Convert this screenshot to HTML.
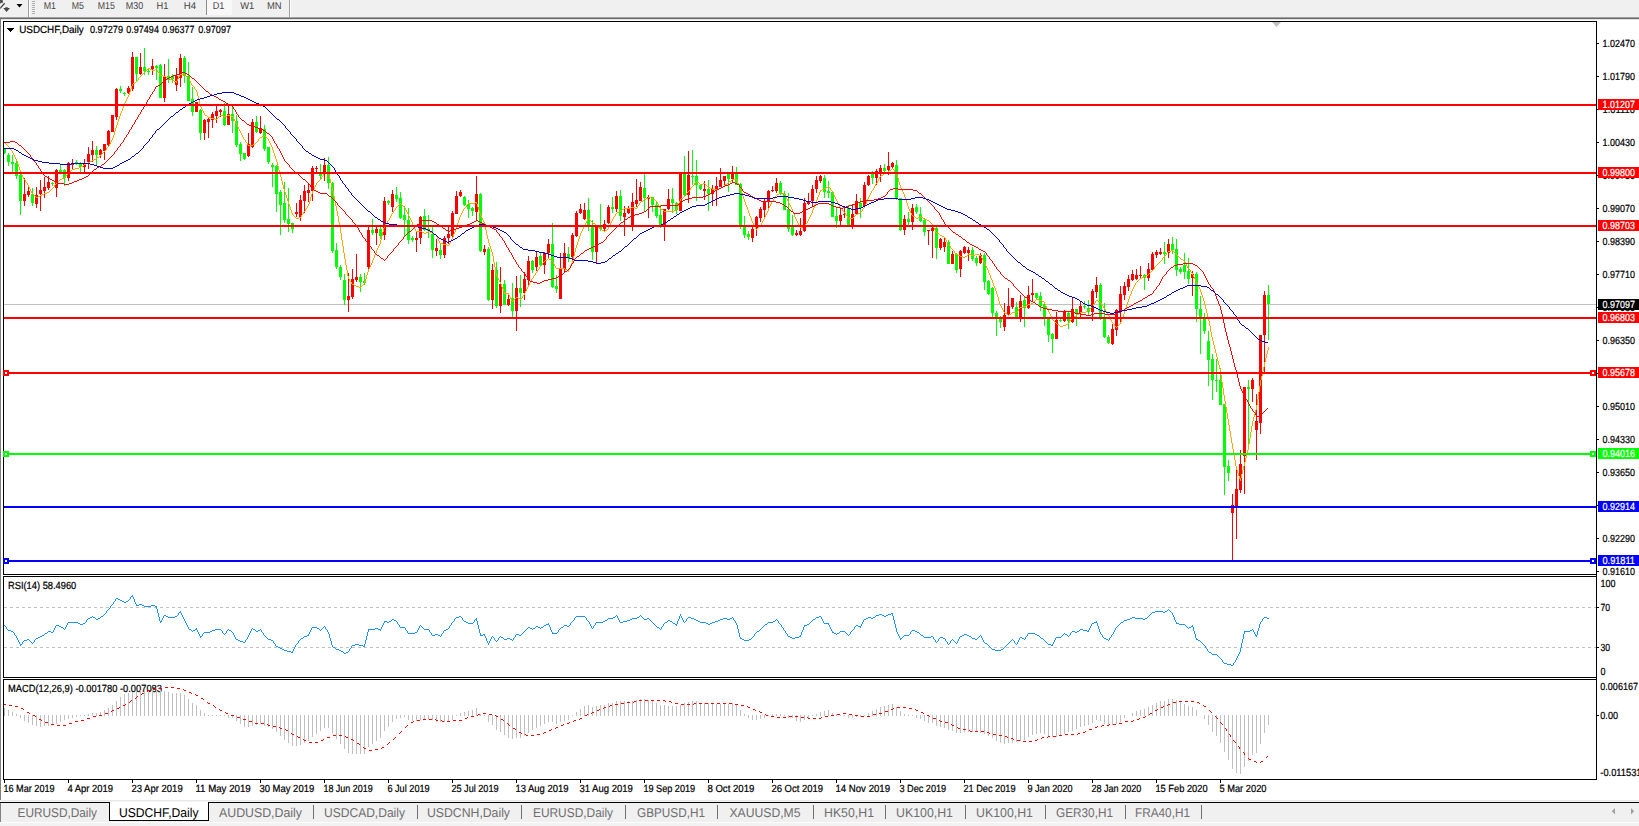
<!DOCTYPE html>
<html><head><meta charset="utf-8"><title>USDCHF,Daily</title>
<style>
html,body{margin:0;padding:0;background:#fff;overflow:hidden}
svg{display:block;font-family:'Liberation Sans', sans-serif;}
svg rect,svg line,svg polyline,svg path{shape-rendering:crispEdges}
svg text{text-rendering:geometricPrecision}
</style></head>
<body>
<svg width="1639" height="826" viewBox="0 0 1639 826">
<rect x="0" y="0" width="1639" height="826" fill="#ffffff" />
<rect x="0" y="0" width="1639" height="17" fill="#f0f0f0" />
<rect x="0" y="17" width="1639" height="1" fill="#a0a0a0" />
<rect x="0" y="18" width="1639" height="1" fill="#696969" />
<rect x="0" y="19" width="1639" height="1" fill="#e3e3e3" />
<rect x="0" y="19" width="1" height="781" fill="#808080" />
<path d="M0 0 L2.6 0 L3.1 2.4 L0 3.6 Z" fill="#505050" style="shape-rendering:auto"/>
<path d="M4.7 3.3 L0 8.4" stroke="#404040" stroke-width="1.3" fill="none" style="shape-rendering:auto"/>
<path d="M3.2 8 L5.3 8 L5.3 7.2 L7.8 7.2 L7.8 8 L10 8 L6.6 12.1 Z" fill="#484848" style="shape-rendering:auto"/>
<path d="M16.5 4 L22.5 4 L19.5 7.5 Z" fill="#000" style="shape-rendering:auto"/>
<rect x="28" y="0" width="1" height="17" fill="#a0a0a0" />
<rect x="29" y="0" width="1" height="17" fill="#ffffff" />
<rect x="289" y="0" width="1" height="17" fill="#a0a0a0" />
<rect x="290" y="0" width="1" height="17" fill="#ffffff" />
<rect x="32" y="1" width="3" height="1" fill="#b0b0b0" />
<rect x="32" y="3" width="3" height="1" fill="#b0b0b0" />
<rect x="32" y="5" width="3" height="1" fill="#b0b0b0" />
<rect x="32" y="7" width="3" height="1" fill="#b0b0b0" />
<rect x="32" y="9" width="3" height="1" fill="#b0b0b0" />
<rect x="32" y="11" width="3" height="1" fill="#b0b0b0" />
<rect x="32" y="13" width="3" height="1" fill="#b0b0b0" />
<rect x="206" y="0" width="1" height="15" fill="#8c8c8c" />
<rect x="207" y="0" width="25" height="15" fill="#f8f8f8" />
<text x="43.7" y="9" font-size="10" fill="#444" stroke="#444" stroke-width="0" textLength="12.3" lengthAdjust="spacingAndGlyphs" >M1</text>
<text x="71.8" y="9" font-size="10" fill="#444" stroke="#444" stroke-width="0" textLength="12.2" lengthAdjust="spacingAndGlyphs" >M5</text>
<text x="97.7" y="9" font-size="10" fill="#444" stroke="#444" stroke-width="0" textLength="17.1" lengthAdjust="spacingAndGlyphs" >M15</text>
<text x="125.8" y="9" font-size="10" fill="#444" stroke="#444" stroke-width="0" textLength="17.4" lengthAdjust="spacingAndGlyphs" >M30</text>
<text x="156.5" y="9" font-size="10" fill="#444" stroke="#444" stroke-width="0" textLength="11.9" lengthAdjust="spacingAndGlyphs" >H1</text>
<text x="183.7" y="9" font-size="10" fill="#444" stroke="#444" stroke-width="0" textLength="12.3" lengthAdjust="spacingAndGlyphs" >H4</text>
<text x="212.7" y="9" font-size="10" fill="#444" stroke="#444" stroke-width="0" textLength="11.7" lengthAdjust="spacingAndGlyphs" >D1</text>
<text x="240.2" y="9" font-size="10" fill="#444" stroke="#444" stroke-width="0" textLength="14.1" lengthAdjust="spacingAndGlyphs" >W1</text>
<text x="266.9" y="9" font-size="10" fill="#444" stroke="#444" stroke-width="0" textLength="14.6" lengthAdjust="spacingAndGlyphs" >MN</text>
<rect x="1596" y="21" width="1" height="759" fill="#000" />
<rect x="3" y="21" width="1594" height="1" fill="#000" />
<rect x="3" y="574" width="1594" height="1" fill="#000" />
<rect x="3" y="21" width="1" height="554" fill="#000" />
<rect x="3" y="576" width="1594" height="1" fill="#000" />
<rect x="3" y="677" width="1594" height="1" fill="#000" />
<rect x="3" y="576" width="1" height="102" fill="#000" />
<rect x="3" y="679" width="1594" height="1" fill="#000" />
<rect x="3" y="779" width="1594" height="1" fill="#000" />
<rect x="3" y="679" width="1" height="101" fill="#000" />
<defs><clipPath id="cm"><rect x="4" y="22" width="1592" height="552"/></clipPath><clipPath id="cr"><rect x="4" y="577" width="1592" height="100"/></clipPath><clipPath id="cd"><rect x="4" y="680" width="1592" height="99"/></clipPath></defs>
<rect x="1597" y="43" width="2" height="1" fill="#000" />
<text x="1602.5" y="46.6" font-size="10.4" fill="#000" stroke="#000" stroke-width="0.22" textLength="32.4" lengthAdjust="spacingAndGlyphs" >1.02470</text>
<rect x="1597" y="76" width="2" height="1" fill="#000" />
<text x="1602.5" y="79.6" font-size="10.4" fill="#000" stroke="#000" stroke-width="0.22" textLength="32.4" lengthAdjust="spacingAndGlyphs" >1.01790</text>
<rect x="1597" y="109" width="2" height="1" fill="#000" />
<text x="1602.5" y="112.6" font-size="10.4" fill="#000" stroke="#000" stroke-width="0.22" textLength="32.4" lengthAdjust="spacingAndGlyphs" >1.01110</text>
<rect x="1597" y="142" width="2" height="1" fill="#000" />
<text x="1602.5" y="145.6" font-size="10.4" fill="#000" stroke="#000" stroke-width="0.22" textLength="32.4" lengthAdjust="spacingAndGlyphs" >1.00430</text>
<rect x="1597" y="175" width="2" height="1" fill="#000" />
<text x="1602.5" y="178.6" font-size="10.4" fill="#000" stroke="#000" stroke-width="0.22" textLength="32.4" lengthAdjust="spacingAndGlyphs" >0.99750</text>
<rect x="1597" y="208" width="2" height="1" fill="#000" />
<text x="1602.5" y="211.6" font-size="10.4" fill="#000" stroke="#000" stroke-width="0.22" textLength="32.4" lengthAdjust="spacingAndGlyphs" >0.99070</text>
<rect x="1597" y="241" width="2" height="1" fill="#000" />
<text x="1602.5" y="244.6" font-size="10.4" fill="#000" stroke="#000" stroke-width="0.22" textLength="32.4" lengthAdjust="spacingAndGlyphs" >0.98390</text>
<rect x="1597" y="274" width="2" height="1" fill="#000" />
<text x="1602.5" y="277.6" font-size="10.4" fill="#000" stroke="#000" stroke-width="0.22" textLength="32.4" lengthAdjust="spacingAndGlyphs" >0.97710</text>
<rect x="1597" y="307" width="2" height="1" fill="#000" />
<text x="1602.5" y="310.6" font-size="10.4" fill="#000" stroke="#000" stroke-width="0.22" textLength="32.4" lengthAdjust="spacingAndGlyphs" >0.97030</text>
<rect x="1597" y="340" width="2" height="1" fill="#000" />
<text x="1602.5" y="343.6" font-size="10.4" fill="#000" stroke="#000" stroke-width="0.22" textLength="32.4" lengthAdjust="spacingAndGlyphs" >0.96350</text>
<rect x="1597" y="373" width="2" height="1" fill="#000" />
<text x="1602.5" y="376.6" font-size="10.4" fill="#000" stroke="#000" stroke-width="0.22" textLength="32.4" lengthAdjust="spacingAndGlyphs" >0.95690</text>
<rect x="1597" y="406" width="2" height="1" fill="#000" />
<text x="1602.5" y="409.6" font-size="10.4" fill="#000" stroke="#000" stroke-width="0.22" textLength="32.4" lengthAdjust="spacingAndGlyphs" >0.95010</text>
<rect x="1597" y="439" width="2" height="1" fill="#000" />
<text x="1602.5" y="442.6" font-size="10.4" fill="#000" stroke="#000" stroke-width="0.22" textLength="32.4" lengthAdjust="spacingAndGlyphs" >0.94330</text>
<rect x="1597" y="472" width="2" height="1" fill="#000" />
<text x="1602.5" y="475.6" font-size="10.4" fill="#000" stroke="#000" stroke-width="0.22" textLength="32.4" lengthAdjust="spacingAndGlyphs" >0.93650</text>
<rect x="1597" y="505" width="2" height="1" fill="#000" />
<text x="1602.5" y="508.6" font-size="10.4" fill="#000" stroke="#000" stroke-width="0.22" textLength="32.4" lengthAdjust="spacingAndGlyphs" >0.92970</text>
<rect x="1597" y="538" width="2" height="1" fill="#000" />
<text x="1602.5" y="541.6" font-size="10.4" fill="#000" stroke="#000" stroke-width="0.22" textLength="32.4" lengthAdjust="spacingAndGlyphs" >0.92290</text>
<rect x="1597" y="571" width="2" height="1" fill="#000" />
<text x="1602.5" y="574.6" font-size="10.4" fill="#000" stroke="#000" stroke-width="0.22" textLength="32.4" lengthAdjust="spacingAndGlyphs" >0.91610</text>
<rect x="4" y="304" width="1592" height="1" fill="#c0c0c0" />
<g clip-path="url(#cm)">
<rect x="4" y="148" width="1" height="6" fill="#00ff00" />
<rect x="3" y="149" width="3" height="4" fill="#00ff00" />
<rect x="8" y="153" width="1" height="13" fill="#00ff00" />
<rect x="7" y="155" width="3" height="7" fill="#00ff00" />
<rect x="12" y="155" width="1" height="17" fill="#00ff00" />
<rect x="11" y="162" width="3" height="2" fill="#00ff00" />
<rect x="16" y="161" width="1" height="18" fill="#00ff00" />
<rect x="15" y="163" width="3" height="13" fill="#00ff00" />
<rect x="20" y="173" width="1" height="42" fill="#00ff00" />
<rect x="19" y="175" width="3" height="26" fill="#00ff00" />
<rect x="24" y="178" width="1" height="28" fill="#ff0000" />
<rect x="23" y="194" width="3" height="7" fill="#ff0000" />
<rect x="28" y="185" width="1" height="12" fill="#ff0000" />
<rect x="27" y="191" width="3" height="4" fill="#ff0000" />
<rect x="32" y="188" width="1" height="18" fill="#00ff00" />
<rect x="31" y="194" width="3" height="9" fill="#00ff00" />
<rect x="36" y="187" width="1" height="21" fill="#ff0000" />
<rect x="35" y="195" width="3" height="9" fill="#ff0000" />
<rect x="40" y="180" width="1" height="31" fill="#ff0000" />
<rect x="39" y="190" width="3" height="4" fill="#ff0000" />
<rect x="44" y="177" width="1" height="21" fill="#ff0000" />
<rect x="43" y="187" width="3" height="4" fill="#ff0000" />
<rect x="48" y="176" width="1" height="14" fill="#ff0000" />
<rect x="47" y="182" width="3" height="6" fill="#ff0000" />
<rect x="52" y="182" width="1" height="4" fill="#00ff00" />
<rect x="51" y="183" width="3" height="1" fill="#00ff00" />
<rect x="56" y="169" width="1" height="28" fill="#ff0000" />
<rect x="55" y="170" width="3" height="18" fill="#ff0000" />
<rect x="60" y="165" width="1" height="8" fill="#00ff00" />
<rect x="59" y="170" width="3" height="2" fill="#00ff00" />
<rect x="64" y="169" width="1" height="17" fill="#00ff00" />
<rect x="63" y="170" width="3" height="8" fill="#00ff00" />
<rect x="68" y="162" width="1" height="19" fill="#ff0000" />
<rect x="67" y="163" width="3" height="15" fill="#ff0000" />
<rect x="72" y="159" width="1" height="10" fill="#ff0000" />
<rect x="71" y="164" width="3" height="1" fill="#ff0000" />
<rect x="76" y="160" width="1" height="5" fill="#00ff00" />
<rect x="75" y="162" width="3" height="1" fill="#00ff00" />
<rect x="80" y="162" width="1" height="12" fill="#00ff00" />
<rect x="79" y="163" width="3" height="4" fill="#00ff00" />
<rect x="84" y="159" width="1" height="14" fill="#ff0000" />
<rect x="83" y="164" width="3" height="3" fill="#ff0000" />
<rect x="88" y="147" width="1" height="22" fill="#ff0000" />
<rect x="87" y="154" width="3" height="8" fill="#ff0000" />
<rect x="92" y="141" width="1" height="21" fill="#ff0000" />
<rect x="91" y="150" width="3" height="5" fill="#ff0000" />
<rect x="96" y="146" width="1" height="20" fill="#00ff00" />
<rect x="95" y="150" width="3" height="5" fill="#00ff00" />
<rect x="100" y="149" width="1" height="9" fill="#ff0000" />
<rect x="99" y="150" width="3" height="5" fill="#ff0000" />
<rect x="104" y="144" width="1" height="16" fill="#ff0000" />
<rect x="103" y="144" width="3" height="7" fill="#ff0000" />
<rect x="108" y="130" width="1" height="17" fill="#ff0000" />
<rect x="107" y="131" width="3" height="14" fill="#ff0000" />
<rect x="112" y="115" width="1" height="17" fill="#ff0000" />
<rect x="111" y="115" width="3" height="17" fill="#ff0000" />
<rect x="116" y="88" width="1" height="32" fill="#ff0000" />
<rect x="115" y="89" width="3" height="28" fill="#ff0000" />
<rect x="120" y="86" width="1" height="7" fill="#00ff00" />
<rect x="119" y="89" width="3" height="2" fill="#00ff00" />
<rect x="124" y="92" width="1" height="4" fill="#00ff00" />
<rect x="123" y="93" width="3" height="1" fill="#00ff00" />
<rect x="128" y="86" width="1" height="8" fill="#ff0000" />
<rect x="127" y="88" width="3" height="5" fill="#ff0000" />
<rect x="132" y="52" width="1" height="39" fill="#ff0000" />
<rect x="131" y="57" width="3" height="32" fill="#ff0000" />
<rect x="136" y="57" width="1" height="24" fill="#00ff00" />
<rect x="135" y="57" width="3" height="17" fill="#00ff00" />
<rect x="140" y="53" width="1" height="22" fill="#ff0000" />
<rect x="139" y="67" width="3" height="7" fill="#ff0000" />
<rect x="144" y="48" width="1" height="27" fill="#00ff00" />
<rect x="143" y="67" width="3" height="4" fill="#00ff00" />
<rect x="148" y="69" width="1" height="6" fill="#00ff00" />
<rect x="147" y="71" width="3" height="1" fill="#00ff00" />
<rect x="152" y="59" width="1" height="16" fill="#ff0000" />
<rect x="151" y="66" width="3" height="3" fill="#ff0000" />
<rect x="156" y="65" width="1" height="15" fill="#00ff00" />
<rect x="155" y="66" width="3" height="2" fill="#00ff00" />
<rect x="160" y="64" width="1" height="34" fill="#00ff00" />
<rect x="159" y="65" width="3" height="33" fill="#00ff00" />
<rect x="164" y="64" width="1" height="38" fill="#ff0000" />
<rect x="163" y="76" width="3" height="22" fill="#ff0000" />
<rect x="168" y="59" width="1" height="24" fill="#00ff00" />
<rect x="167" y="76" width="3" height="4" fill="#00ff00" />
<rect x="172" y="74" width="1" height="9" fill="#00ff00" />
<rect x="171" y="76" width="3" height="3" fill="#00ff00" />
<rect x="176" y="68" width="1" height="23" fill="#ff0000" />
<rect x="175" y="76" width="3" height="9" fill="#ff0000" />
<rect x="180" y="54" width="1" height="33" fill="#ff0000" />
<rect x="179" y="58" width="3" height="20" fill="#ff0000" />
<rect x="184" y="56" width="1" height="27" fill="#00ff00" />
<rect x="183" y="58" width="3" height="18" fill="#00ff00" />
<rect x="188" y="62" width="1" height="39" fill="#00ff00" />
<rect x="187" y="76" width="3" height="25" fill="#00ff00" />
<rect x="192" y="87" width="1" height="29" fill="#00ff00" />
<rect x="191" y="99" width="3" height="13" fill="#00ff00" />
<rect x="196" y="102" width="1" height="10" fill="#ff0000" />
<rect x="195" y="102" width="3" height="10" fill="#ff0000" />
<rect x="200" y="109" width="1" height="31" fill="#00ff00" />
<rect x="199" y="110" width="3" height="23" fill="#00ff00" />
<rect x="204" y="119" width="1" height="21" fill="#ff0000" />
<rect x="203" y="120" width="3" height="13" fill="#ff0000" />
<rect x="208" y="118" width="1" height="20" fill="#ff0000" />
<rect x="207" y="119" width="3" height="3" fill="#ff0000" />
<rect x="212" y="112" width="1" height="16" fill="#ff0000" />
<rect x="211" y="114" width="3" height="6" fill="#ff0000" />
<rect x="216" y="105" width="1" height="18" fill="#ff0000" />
<rect x="215" y="111" width="3" height="5" fill="#ff0000" />
<rect x="220" y="109" width="1" height="8" fill="#ff0000" />
<rect x="219" y="110" width="3" height="2" fill="#ff0000" />
<rect x="224" y="103" width="1" height="23" fill="#00ff00" />
<rect x="223" y="111" width="3" height="14" fill="#00ff00" />
<rect x="228" y="105" width="1" height="20" fill="#ff0000" />
<rect x="227" y="114" width="3" height="11" fill="#ff0000" />
<rect x="232" y="105" width="1" height="28" fill="#00ff00" />
<rect x="231" y="114" width="3" height="7" fill="#00ff00" />
<rect x="236" y="115" width="1" height="32" fill="#00ff00" />
<rect x="235" y="121" width="3" height="24" fill="#00ff00" />
<rect x="240" y="142" width="1" height="19" fill="#00ff00" />
<rect x="239" y="144" width="3" height="10" fill="#00ff00" />
<rect x="244" y="153" width="1" height="7" fill="#00ff00" />
<rect x="243" y="153" width="3" height="6" fill="#00ff00" />
<rect x="248" y="133" width="1" height="24" fill="#ff0000" />
<rect x="247" y="144" width="3" height="12" fill="#ff0000" />
<rect x="252" y="119" width="1" height="29" fill="#ff0000" />
<rect x="251" y="122" width="3" height="25" fill="#ff0000" />
<rect x="256" y="116" width="1" height="17" fill="#00ff00" />
<rect x="255" y="122" width="3" height="10" fill="#00ff00" />
<rect x="260" y="116" width="1" height="18" fill="#ff0000" />
<rect x="259" y="128" width="3" height="5" fill="#ff0000" />
<rect x="264" y="125" width="1" height="26" fill="#00ff00" />
<rect x="263" y="129" width="3" height="20" fill="#00ff00" />
<rect x="268" y="147" width="1" height="17" fill="#00ff00" />
<rect x="267" y="147" width="3" height="15" fill="#00ff00" />
<rect x="272" y="163" width="1" height="24" fill="#00ff00" />
<rect x="271" y="165" width="3" height="2" fill="#00ff00" />
<rect x="276" y="165" width="1" height="47" fill="#00ff00" />
<rect x="275" y="166" width="3" height="28" fill="#00ff00" />
<rect x="280" y="190" width="1" height="45" fill="#00ff00" />
<rect x="279" y="192" width="3" height="13" fill="#00ff00" />
<rect x="284" y="182" width="1" height="41" fill="#00ff00" />
<rect x="283" y="203" width="3" height="17" fill="#00ff00" />
<rect x="288" y="188" width="1" height="44" fill="#00ff00" />
<rect x="287" y="219" width="3" height="5" fill="#00ff00" />
<rect x="292" y="223" width="1" height="10" fill="#00ff00" />
<rect x="291" y="223" width="3" height="6" fill="#00ff00" />
<rect x="296" y="203" width="1" height="14" fill="#ff0000" />
<rect x="295" y="212" width="3" height="2" fill="#ff0000" />
<rect x="300" y="195" width="1" height="26" fill="#ff0000" />
<rect x="299" y="200" width="3" height="17" fill="#ff0000" />
<rect x="304" y="185" width="1" height="28" fill="#ff0000" />
<rect x="303" y="191" width="3" height="10" fill="#ff0000" />
<rect x="308" y="183" width="1" height="19" fill="#ff0000" />
<rect x="307" y="190" width="3" height="3" fill="#ff0000" />
<rect x="312" y="166" width="1" height="35" fill="#ff0000" />
<rect x="311" y="168" width="3" height="23" fill="#ff0000" />
<rect x="316" y="166" width="1" height="7" fill="#ff0000" />
<rect x="315" y="168" width="3" height="1" fill="#ff0000" />
<rect x="320" y="164" width="1" height="16" fill="#00ff00" />
<rect x="319" y="172" width="3" height="4" fill="#00ff00" />
<rect x="324" y="158" width="1" height="23" fill="#ff0000" />
<rect x="323" y="165" width="3" height="7" fill="#ff0000" />
<rect x="328" y="157" width="1" height="32" fill="#00ff00" />
<rect x="327" y="165" width="3" height="18" fill="#00ff00" />
<rect x="332" y="182" width="1" height="71" fill="#00ff00" />
<rect x="331" y="183" width="3" height="68" fill="#00ff00" />
<rect x="336" y="243" width="1" height="26" fill="#00ff00" />
<rect x="335" y="250" width="3" height="17" fill="#00ff00" />
<rect x="340" y="265" width="1" height="15" fill="#00ff00" />
<rect x="339" y="267" width="3" height="10" fill="#00ff00" />
<rect x="344" y="274" width="1" height="31" fill="#00ff00" />
<rect x="343" y="280" width="3" height="20" fill="#00ff00" />
<rect x="348" y="273" width="1" height="39" fill="#ff0000" />
<rect x="347" y="296" width="3" height="4" fill="#ff0000" />
<rect x="352" y="269" width="1" height="30" fill="#ff0000" />
<rect x="351" y="279" width="3" height="18" fill="#ff0000" />
<rect x="356" y="254" width="1" height="28" fill="#ff0000" />
<rect x="355" y="277" width="3" height="3" fill="#ff0000" />
<rect x="360" y="274" width="1" height="18" fill="#00ff00" />
<rect x="359" y="277" width="3" height="5" fill="#00ff00" />
<rect x="364" y="273" width="1" height="12" fill="#00ff00" />
<rect x="363" y="281" width="3" height="2" fill="#00ff00" />
<rect x="368" y="227" width="1" height="42" fill="#ff0000" />
<rect x="367" y="230" width="3" height="37" fill="#ff0000" />
<rect x="372" y="219" width="1" height="16" fill="#00ff00" />
<rect x="371" y="230" width="3" height="3" fill="#00ff00" />
<rect x="376" y="226" width="1" height="19" fill="#ff0000" />
<rect x="375" y="229" width="3" height="4" fill="#ff0000" />
<rect x="380" y="225" width="1" height="14" fill="#00ff00" />
<rect x="379" y="229" width="3" height="7" fill="#00ff00" />
<rect x="384" y="197" width="1" height="43" fill="#ff0000" />
<rect x="383" y="201" width="3" height="34" fill="#ff0000" />
<rect x="388" y="200" width="1" height="5" fill="#00ff00" />
<rect x="387" y="201" width="3" height="2" fill="#00ff00" />
<rect x="392" y="190" width="1" height="22" fill="#ff0000" />
<rect x="391" y="194" width="3" height="13" fill="#ff0000" />
<rect x="396" y="187" width="1" height="15" fill="#00ff00" />
<rect x="395" y="195" width="3" height="4" fill="#00ff00" />
<rect x="400" y="192" width="1" height="27" fill="#00ff00" />
<rect x="399" y="198" width="3" height="20" fill="#00ff00" />
<rect x="404" y="206" width="1" height="31" fill="#00ff00" />
<rect x="403" y="215" width="3" height="5" fill="#00ff00" />
<rect x="408" y="208" width="1" height="36" fill="#00ff00" />
<rect x="407" y="220" width="3" height="20" fill="#00ff00" />
<rect x="412" y="236" width="1" height="6" fill="#00ff00" />
<rect x="411" y="238" width="3" height="2" fill="#00ff00" />
<rect x="416" y="232" width="1" height="20" fill="#ff0000" />
<rect x="415" y="238" width="3" height="2" fill="#ff0000" />
<rect x="420" y="216" width="1" height="28" fill="#ff0000" />
<rect x="419" y="217" width="3" height="21" fill="#ff0000" />
<rect x="424" y="209" width="1" height="22" fill="#00ff00" />
<rect x="423" y="216" width="3" height="14" fill="#00ff00" />
<rect x="428" y="215" width="1" height="23" fill="#00ff00" />
<rect x="427" y="229" width="3" height="2" fill="#00ff00" />
<rect x="432" y="227" width="1" height="31" fill="#00ff00" />
<rect x="431" y="234" width="3" height="16" fill="#00ff00" />
<rect x="436" y="239" width="1" height="17" fill="#ff0000" />
<rect x="435" y="248" width="3" height="3" fill="#ff0000" />
<rect x="440" y="243" width="1" height="16" fill="#00ff00" />
<rect x="439" y="250" width="3" height="5" fill="#00ff00" />
<rect x="444" y="236" width="1" height="22" fill="#ff0000" />
<rect x="443" y="238" width="3" height="17" fill="#ff0000" />
<rect x="448" y="225" width="1" height="19" fill="#ff0000" />
<rect x="447" y="234" width="3" height="4" fill="#ff0000" />
<rect x="452" y="211" width="1" height="26" fill="#ff0000" />
<rect x="451" y="213" width="3" height="23" fill="#ff0000" />
<rect x="456" y="191" width="1" height="23" fill="#ff0000" />
<rect x="455" y="196" width="3" height="18" fill="#ff0000" />
<rect x="460" y="190" width="1" height="7" fill="#ff0000" />
<rect x="459" y="192" width="3" height="4" fill="#ff0000" />
<rect x="464" y="196" width="1" height="10" fill="#00ff00" />
<rect x="463" y="197" width="3" height="8" fill="#00ff00" />
<rect x="468" y="200" width="1" height="18" fill="#00ff00" />
<rect x="467" y="204" width="3" height="5" fill="#00ff00" />
<rect x="472" y="207" width="1" height="9" fill="#00ff00" />
<rect x="471" y="208" width="3" height="3" fill="#00ff00" />
<rect x="476" y="176" width="1" height="44" fill="#ff0000" />
<rect x="475" y="194" width="3" height="18" fill="#ff0000" />
<rect x="480" y="193" width="1" height="59" fill="#00ff00" />
<rect x="479" y="194" width="3" height="57" fill="#00ff00" />
<rect x="484" y="245" width="1" height="10" fill="#ff0000" />
<rect x="483" y="249" width="3" height="3" fill="#ff0000" />
<rect x="488" y="247" width="1" height="54" fill="#00ff00" />
<rect x="487" y="249" width="3" height="51" fill="#00ff00" />
<rect x="492" y="264" width="1" height="45" fill="#ff0000" />
<rect x="491" y="270" width="3" height="30" fill="#ff0000" />
<rect x="496" y="262" width="1" height="46" fill="#00ff00" />
<rect x="495" y="270" width="3" height="36" fill="#00ff00" />
<rect x="500" y="267" width="1" height="46" fill="#ff0000" />
<rect x="499" y="284" width="3" height="22" fill="#ff0000" />
<rect x="504" y="280" width="1" height="25" fill="#00ff00" />
<rect x="503" y="284" width="3" height="21" fill="#00ff00" />
<rect x="508" y="294" width="1" height="12" fill="#ff0000" />
<rect x="507" y="299" width="3" height="6" fill="#ff0000" />
<rect x="512" y="283" width="1" height="34" fill="#00ff00" />
<rect x="511" y="298" width="3" height="13" fill="#00ff00" />
<rect x="516" y="276" width="1" height="55" fill="#ff0000" />
<rect x="515" y="288" width="3" height="23" fill="#ff0000" />
<rect x="520" y="275" width="1" height="32" fill="#00ff00" />
<rect x="519" y="288" width="3" height="5" fill="#00ff00" />
<rect x="524" y="272" width="1" height="28" fill="#ff0000" />
<rect x="523" y="279" width="3" height="14" fill="#ff0000" />
<rect x="528" y="256" width="1" height="30" fill="#ff0000" />
<rect x="527" y="261" width="3" height="19" fill="#ff0000" />
<rect x="532" y="260" width="1" height="13" fill="#00ff00" />
<rect x="531" y="261" width="3" height="9" fill="#00ff00" />
<rect x="536" y="251" width="1" height="20" fill="#ff0000" />
<rect x="535" y="257" width="3" height="10" fill="#ff0000" />
<rect x="540" y="253" width="1" height="14" fill="#00ff00" />
<rect x="539" y="256" width="3" height="9" fill="#00ff00" />
<rect x="544" y="252" width="1" height="22" fill="#ff0000" />
<rect x="543" y="253" width="3" height="12" fill="#ff0000" />
<rect x="548" y="239" width="1" height="20" fill="#ff0000" />
<rect x="547" y="244" width="3" height="9" fill="#ff0000" />
<rect x="552" y="223" width="1" height="65" fill="#00ff00" />
<rect x="551" y="244" width="3" height="43" fill="#00ff00" />
<rect x="556" y="275" width="1" height="18" fill="#00ff00" />
<rect x="555" y="286" width="3" height="3" fill="#00ff00" />
<rect x="560" y="253" width="1" height="46" fill="#ff0000" />
<rect x="559" y="269" width="3" height="30" fill="#ff0000" />
<rect x="564" y="243" width="1" height="29" fill="#ff0000" />
<rect x="563" y="253" width="3" height="16" fill="#ff0000" />
<rect x="568" y="247" width="1" height="15" fill="#00ff00" />
<rect x="567" y="254" width="3" height="4" fill="#00ff00" />
<rect x="572" y="233" width="1" height="29" fill="#ff0000" />
<rect x="571" y="235" width="3" height="22" fill="#ff0000" />
<rect x="576" y="211" width="1" height="26" fill="#ff0000" />
<rect x="575" y="213" width="3" height="23" fill="#ff0000" />
<rect x="580" y="204" width="1" height="10" fill="#ff0000" />
<rect x="579" y="209" width="3" height="4" fill="#ff0000" />
<rect x="584" y="203" width="1" height="17" fill="#ff0000" />
<rect x="583" y="210" width="3" height="9" fill="#ff0000" />
<rect x="588" y="198" width="1" height="33" fill="#00ff00" />
<rect x="587" y="210" width="3" height="15" fill="#00ff00" />
<rect x="592" y="220" width="1" height="40" fill="#00ff00" />
<rect x="591" y="225" width="3" height="27" fill="#00ff00" />
<rect x="596" y="226" width="1" height="38" fill="#ff0000" />
<rect x="595" y="227" width="3" height="25" fill="#ff0000" />
<rect x="600" y="204" width="1" height="27" fill="#00ff00" />
<rect x="599" y="226" width="3" height="3" fill="#00ff00" />
<rect x="604" y="220" width="1" height="11" fill="#ff0000" />
<rect x="603" y="224" width="3" height="5" fill="#ff0000" />
<rect x="608" y="205" width="1" height="19" fill="#ff0000" />
<rect x="607" y="207" width="3" height="16" fill="#ff0000" />
<rect x="612" y="197" width="1" height="16" fill="#00ff00" />
<rect x="611" y="207" width="3" height="2" fill="#00ff00" />
<rect x="616" y="191" width="1" height="21" fill="#ff0000" />
<rect x="615" y="196" width="3" height="13" fill="#ff0000" />
<rect x="620" y="190" width="1" height="31" fill="#00ff00" />
<rect x="619" y="196" width="3" height="20" fill="#00ff00" />
<rect x="624" y="206" width="1" height="30" fill="#ff0000" />
<rect x="623" y="213" width="3" height="4" fill="#ff0000" />
<rect x="628" y="206" width="1" height="8" fill="#ff0000" />
<rect x="627" y="208" width="3" height="5" fill="#ff0000" />
<rect x="632" y="193" width="1" height="38" fill="#ff0000" />
<rect x="631" y="202" width="3" height="23" fill="#ff0000" />
<rect x="636" y="179" width="1" height="28" fill="#ff0000" />
<rect x="635" y="200" width="3" height="4" fill="#ff0000" />
<rect x="640" y="182" width="1" height="19" fill="#ff0000" />
<rect x="639" y="187" width="3" height="14" fill="#ff0000" />
<rect x="644" y="174" width="1" height="37" fill="#00ff00" />
<rect x="643" y="188" width="3" height="10" fill="#00ff00" />
<rect x="648" y="195" width="1" height="23" fill="#ff0000" />
<rect x="647" y="197" width="3" height="2" fill="#ff0000" />
<rect x="652" y="197" width="1" height="15" fill="#00ff00" />
<rect x="651" y="197" width="3" height="8" fill="#00ff00" />
<rect x="656" y="202" width="1" height="16" fill="#00ff00" />
<rect x="655" y="205" width="3" height="11" fill="#00ff00" />
<rect x="660" y="205" width="1" height="23" fill="#00ff00" />
<rect x="659" y="215" width="3" height="10" fill="#00ff00" />
<rect x="664" y="209" width="1" height="32" fill="#ff0000" />
<rect x="663" y="209" width="3" height="16" fill="#ff0000" />
<rect x="668" y="189" width="1" height="21" fill="#ff0000" />
<rect x="667" y="199" width="3" height="10" fill="#ff0000" />
<rect x="672" y="188" width="1" height="25" fill="#00ff00" />
<rect x="671" y="199" width="3" height="4" fill="#00ff00" />
<rect x="676" y="202" width="1" height="12" fill="#00ff00" />
<rect x="675" y="203" width="3" height="7" fill="#00ff00" />
<rect x="680" y="173" width="1" height="38" fill="#ff0000" />
<rect x="679" y="173" width="3" height="38" fill="#ff0000" />
<rect x="684" y="156" width="1" height="40" fill="#00ff00" />
<rect x="683" y="174" width="3" height="21" fill="#00ff00" />
<rect x="688" y="151" width="1" height="52" fill="#ff0000" />
<rect x="687" y="175" width="3" height="20" fill="#ff0000" />
<rect x="692" y="150" width="1" height="35" fill="#00ff00" />
<rect x="691" y="176" width="3" height="1" fill="#00ff00" />
<rect x="696" y="160" width="1" height="41" fill="#00ff00" />
<rect x="695" y="176" width="3" height="9" fill="#00ff00" />
<rect x="700" y="184" width="1" height="6" fill="#00ff00" />
<rect x="699" y="185" width="3" height="4" fill="#00ff00" />
<rect x="704" y="181" width="1" height="19" fill="#ff0000" />
<rect x="703" y="189" width="3" height="2" fill="#ff0000" />
<rect x="708" y="180" width="1" height="31" fill="#00ff00" />
<rect x="707" y="189" width="3" height="5" fill="#00ff00" />
<rect x="712" y="185" width="1" height="21" fill="#ff0000" />
<rect x="711" y="189" width="3" height="5" fill="#ff0000" />
<rect x="716" y="177" width="1" height="29" fill="#ff0000" />
<rect x="715" y="186" width="3" height="3" fill="#ff0000" />
<rect x="720" y="168" width="1" height="19" fill="#ff0000" />
<rect x="719" y="180" width="3" height="7" fill="#ff0000" />
<rect x="724" y="176" width="1" height="9" fill="#ff0000" />
<rect x="723" y="176" width="3" height="5" fill="#ff0000" />
<rect x="728" y="173" width="1" height="19" fill="#00ff00" />
<rect x="727" y="174" width="3" height="5" fill="#00ff00" />
<rect x="732" y="166" width="1" height="17" fill="#ff0000" />
<rect x="731" y="173" width="3" height="6" fill="#ff0000" />
<rect x="736" y="167" width="1" height="18" fill="#00ff00" />
<rect x="735" y="174" width="3" height="11" fill="#00ff00" />
<rect x="740" y="183" width="1" height="46" fill="#00ff00" />
<rect x="739" y="184" width="3" height="43" fill="#00ff00" />
<rect x="744" y="216" width="1" height="22" fill="#00ff00" />
<rect x="743" y="227" width="3" height="8" fill="#00ff00" />
<rect x="748" y="231" width="1" height="9" fill="#00ff00" />
<rect x="747" y="234" width="3" height="3" fill="#00ff00" />
<rect x="752" y="225" width="1" height="17" fill="#ff0000" />
<rect x="751" y="229" width="3" height="9" fill="#ff0000" />
<rect x="756" y="216" width="1" height="20" fill="#ff0000" />
<rect x="755" y="217" width="3" height="12" fill="#ff0000" />
<rect x="760" y="207" width="1" height="15" fill="#ff0000" />
<rect x="759" y="209" width="3" height="9" fill="#ff0000" />
<rect x="764" y="199" width="1" height="18" fill="#ff0000" />
<rect x="763" y="201" width="3" height="9" fill="#ff0000" />
<rect x="768" y="190" width="1" height="19" fill="#ff0000" />
<rect x="767" y="191" width="3" height="10" fill="#ff0000" />
<rect x="772" y="186" width="1" height="6" fill="#ff0000" />
<rect x="771" y="190" width="3" height="1" fill="#ff0000" />
<rect x="776" y="178" width="1" height="15" fill="#ff0000" />
<rect x="775" y="183" width="3" height="8" fill="#ff0000" />
<rect x="780" y="181" width="1" height="14" fill="#00ff00" />
<rect x="779" y="183" width="3" height="11" fill="#00ff00" />
<rect x="784" y="191" width="1" height="19" fill="#00ff00" />
<rect x="783" y="194" width="3" height="16" fill="#00ff00" />
<rect x="788" y="193" width="1" height="39" fill="#00ff00" />
<rect x="787" y="209" width="3" height="20" fill="#00ff00" />
<rect x="792" y="215" width="1" height="21" fill="#00ff00" />
<rect x="791" y="227" width="3" height="8" fill="#00ff00" />
<rect x="796" y="230" width="1" height="6" fill="#ff0000" />
<rect x="795" y="233" width="3" height="2" fill="#ff0000" />
<rect x="800" y="218" width="1" height="18" fill="#ff0000" />
<rect x="799" y="231" width="3" height="4" fill="#ff0000" />
<rect x="804" y="198" width="1" height="34" fill="#ff0000" />
<rect x="803" y="203" width="3" height="28" fill="#ff0000" />
<rect x="808" y="193" width="1" height="12" fill="#ff0000" />
<rect x="807" y="201" width="3" height="3" fill="#ff0000" />
<rect x="812" y="185" width="1" height="21" fill="#ff0000" />
<rect x="811" y="189" width="3" height="12" fill="#ff0000" />
<rect x="816" y="176" width="1" height="17" fill="#ff0000" />
<rect x="815" y="180" width="3" height="9" fill="#ff0000" />
<rect x="820" y="175" width="1" height="8" fill="#ff0000" />
<rect x="819" y="176" width="3" height="5" fill="#ff0000" />
<rect x="824" y="175" width="1" height="23" fill="#00ff00" />
<rect x="823" y="178" width="3" height="14" fill="#00ff00" />
<rect x="828" y="181" width="1" height="17" fill="#00ff00" />
<rect x="827" y="191" width="3" height="2" fill="#00ff00" />
<rect x="832" y="191" width="1" height="26" fill="#00ff00" />
<rect x="831" y="192" width="3" height="25" fill="#00ff00" />
<rect x="836" y="208" width="1" height="20" fill="#00ff00" />
<rect x="835" y="216" width="3" height="5" fill="#00ff00" />
<rect x="840" y="207" width="1" height="18" fill="#ff0000" />
<rect x="839" y="215" width="3" height="6" fill="#ff0000" />
<rect x="844" y="207" width="1" height="11" fill="#ff0000" />
<rect x="843" y="214" width="3" height="1" fill="#ff0000" />
<rect x="848" y="205" width="1" height="20" fill="#00ff00" />
<rect x="847" y="208" width="3" height="17" fill="#00ff00" />
<rect x="852" y="204" width="1" height="25" fill="#ff0000" />
<rect x="851" y="214" width="3" height="11" fill="#ff0000" />
<rect x="856" y="194" width="1" height="21" fill="#ff0000" />
<rect x="855" y="201" width="3" height="13" fill="#ff0000" />
<rect x="860" y="198" width="1" height="20" fill="#00ff00" />
<rect x="859" y="203" width="3" height="5" fill="#00ff00" />
<rect x="864" y="182" width="1" height="25" fill="#ff0000" />
<rect x="863" y="185" width="3" height="21" fill="#ff0000" />
<rect x="868" y="175" width="1" height="11" fill="#ff0000" />
<rect x="867" y="176" width="3" height="9" fill="#ff0000" />
<rect x="872" y="171" width="1" height="13" fill="#00ff00" />
<rect x="871" y="174" width="3" height="4" fill="#00ff00" />
<rect x="876" y="169" width="1" height="16" fill="#ff0000" />
<rect x="875" y="171" width="3" height="7" fill="#ff0000" />
<rect x="880" y="165" width="1" height="17" fill="#ff0000" />
<rect x="879" y="168" width="3" height="5" fill="#ff0000" />
<rect x="884" y="164" width="1" height="8" fill="#00ff00" />
<rect x="883" y="168" width="3" height="3" fill="#00ff00" />
<rect x="888" y="152" width="1" height="23" fill="#ff0000" />
<rect x="887" y="166" width="3" height="4" fill="#ff0000" />
<rect x="892" y="162" width="1" height="6" fill="#ff0000" />
<rect x="891" y="163" width="3" height="4" fill="#ff0000" />
<rect x="896" y="160" width="1" height="40" fill="#00ff00" />
<rect x="895" y="165" width="3" height="33" fill="#00ff00" />
<rect x="900" y="198" width="1" height="33" fill="#00ff00" />
<rect x="899" y="198" width="3" height="32" fill="#00ff00" />
<rect x="904" y="215" width="1" height="20" fill="#ff0000" />
<rect x="903" y="219" width="3" height="11" fill="#ff0000" />
<rect x="908" y="212" width="1" height="13" fill="#00ff00" />
<rect x="907" y="219" width="3" height="3" fill="#00ff00" />
<rect x="912" y="204" width="1" height="26" fill="#ff0000" />
<rect x="911" y="208" width="3" height="14" fill="#ff0000" />
<rect x="916" y="204" width="1" height="10" fill="#00ff00" />
<rect x="915" y="207" width="3" height="5" fill="#00ff00" />
<rect x="920" y="207" width="1" height="15" fill="#00ff00" />
<rect x="919" y="214" width="3" height="7" fill="#00ff00" />
<rect x="924" y="218" width="1" height="18" fill="#00ff00" />
<rect x="923" y="220" width="3" height="12" fill="#00ff00" />
<rect x="928" y="230" width="1" height="15" fill="#ff0000" />
<rect x="927" y="230" width="3" height="1" fill="#ff0000" />
<rect x="932" y="227" width="1" height="31" fill="#ff0000" />
<rect x="931" y="228" width="3" height="3" fill="#ff0000" />
<rect x="936" y="227" width="1" height="32" fill="#00ff00" />
<rect x="935" y="228" width="3" height="20" fill="#00ff00" />
<rect x="940" y="238" width="1" height="12" fill="#ff0000" />
<rect x="939" y="239" width="3" height="9" fill="#ff0000" />
<rect x="944" y="237" width="1" height="15" fill="#ff0000" />
<rect x="943" y="242" width="3" height="5" fill="#ff0000" />
<rect x="948" y="240" width="1" height="24" fill="#00ff00" />
<rect x="947" y="242" width="3" height="22" fill="#00ff00" />
<rect x="952" y="251" width="1" height="13" fill="#ff0000" />
<rect x="951" y="254" width="3" height="10" fill="#ff0000" />
<rect x="956" y="253" width="1" height="20" fill="#00ff00" />
<rect x="955" y="254" width="3" height="16" fill="#00ff00" />
<rect x="960" y="250" width="1" height="27" fill="#ff0000" />
<rect x="959" y="251" width="3" height="18" fill="#ff0000" />
<rect x="964" y="246" width="1" height="8" fill="#ff0000" />
<rect x="963" y="247" width="3" height="6" fill="#ff0000" />
<rect x="968" y="247" width="1" height="14" fill="#ff0000" />
<rect x="967" y="250" width="3" height="3" fill="#ff0000" />
<rect x="972" y="247" width="1" height="14" fill="#00ff00" />
<rect x="971" y="250" width="3" height="9" fill="#00ff00" />
<rect x="976" y="256" width="1" height="10" fill="#00ff00" />
<rect x="975" y="258" width="3" height="5" fill="#00ff00" />
<rect x="980" y="253" width="1" height="11" fill="#ff0000" />
<rect x="979" y="255" width="3" height="8" fill="#ff0000" />
<rect x="984" y="253" width="1" height="37" fill="#00ff00" />
<rect x="983" y="255" width="3" height="27" fill="#00ff00" />
<rect x="988" y="280" width="1" height="15" fill="#00ff00" />
<rect x="987" y="281" width="3" height="13" fill="#00ff00" />
<rect x="992" y="287" width="1" height="30" fill="#00ff00" />
<rect x="991" y="288" width="3" height="25" fill="#00ff00" />
<rect x="996" y="311" width="1" height="25" fill="#00ff00" />
<rect x="995" y="313" width="3" height="4" fill="#00ff00" />
<rect x="1000" y="316" width="1" height="12" fill="#00ff00" />
<rect x="999" y="319" width="3" height="3" fill="#00ff00" />
<rect x="1004" y="303" width="1" height="28" fill="#ff0000" />
<rect x="1003" y="315" width="3" height="12" fill="#ff0000" />
<rect x="1008" y="288" width="1" height="28" fill="#ff0000" />
<rect x="1007" y="306" width="3" height="8" fill="#ff0000" />
<rect x="1012" y="298" width="1" height="11" fill="#ff0000" />
<rect x="1011" y="298" width="3" height="9" fill="#ff0000" />
<rect x="1016" y="302" width="1" height="16" fill="#00ff00" />
<rect x="1015" y="307" width="3" height="10" fill="#00ff00" />
<rect x="1020" y="295" width="1" height="27" fill="#ff0000" />
<rect x="1019" y="301" width="3" height="16" fill="#ff0000" />
<rect x="1024" y="297" width="1" height="30" fill="#00ff00" />
<rect x="1023" y="300" width="3" height="8" fill="#00ff00" />
<rect x="1028" y="286" width="1" height="23" fill="#ff0000" />
<rect x="1027" y="295" width="3" height="13" fill="#ff0000" />
<rect x="1032" y="279" width="1" height="22" fill="#ff0000" />
<rect x="1031" y="293" width="3" height="2" fill="#ff0000" />
<rect x="1036" y="293" width="1" height="6" fill="#00ff00" />
<rect x="1035" y="293" width="3" height="5" fill="#00ff00" />
<rect x="1040" y="292" width="1" height="19" fill="#00ff00" />
<rect x="1039" y="296" width="3" height="10" fill="#00ff00" />
<rect x="1044" y="303" width="1" height="23" fill="#00ff00" />
<rect x="1043" y="304" width="3" height="13" fill="#00ff00" />
<rect x="1048" y="317" width="1" height="25" fill="#00ff00" />
<rect x="1047" y="318" width="3" height="17" fill="#00ff00" />
<rect x="1052" y="333" width="1" height="20" fill="#00ff00" />
<rect x="1051" y="334" width="3" height="5" fill="#00ff00" />
<rect x="1056" y="312" width="1" height="27" fill="#ff0000" />
<rect x="1055" y="320" width="3" height="19" fill="#ff0000" />
<rect x="1060" y="319" width="1" height="3" fill="#00ff00" />
<rect x="1059" y="320" width="3" height="1" fill="#00ff00" />
<rect x="1064" y="310" width="1" height="12" fill="#ff0000" />
<rect x="1063" y="312" width="3" height="9" fill="#ff0000" />
<rect x="1068" y="311" width="1" height="18" fill="#00ff00" />
<rect x="1067" y="313" width="3" height="8" fill="#00ff00" />
<rect x="1072" y="297" width="1" height="26" fill="#ff0000" />
<rect x="1071" y="309" width="3" height="13" fill="#ff0000" />
<rect x="1076" y="309" width="1" height="17" fill="#00ff00" />
<rect x="1075" y="309" width="3" height="4" fill="#00ff00" />
<rect x="1080" y="302" width="1" height="15" fill="#ff0000" />
<rect x="1079" y="306" width="3" height="7" fill="#ff0000" />
<rect x="1084" y="301" width="1" height="8" fill="#00ff00" />
<rect x="1083" y="306" width="3" height="1" fill="#00ff00" />
<rect x="1088" y="300" width="1" height="16" fill="#00ff00" />
<rect x="1087" y="308" width="3" height="4" fill="#00ff00" />
<rect x="1092" y="289" width="1" height="32" fill="#ff0000" />
<rect x="1091" y="291" width="3" height="21" fill="#ff0000" />
<rect x="1096" y="277" width="1" height="21" fill="#ff0000" />
<rect x="1095" y="285" width="3" height="7" fill="#ff0000" />
<rect x="1100" y="283" width="1" height="37" fill="#00ff00" />
<rect x="1099" y="285" width="3" height="32" fill="#00ff00" />
<rect x="1104" y="303" width="1" height="35" fill="#00ff00" />
<rect x="1103" y="318" width="3" height="19" fill="#00ff00" />
<rect x="1108" y="335" width="1" height="9" fill="#00ff00" />
<rect x="1107" y="337" width="3" height="6" fill="#00ff00" />
<rect x="1112" y="324" width="1" height="21" fill="#ff0000" />
<rect x="1111" y="329" width="3" height="15" fill="#ff0000" />
<rect x="1116" y="309" width="1" height="27" fill="#ff0000" />
<rect x="1115" y="310" width="3" height="20" fill="#ff0000" />
<rect x="1120" y="286" width="1" height="37" fill="#ff0000" />
<rect x="1119" y="294" width="3" height="17" fill="#ff0000" />
<rect x="1124" y="282" width="1" height="18" fill="#ff0000" />
<rect x="1123" y="286" width="3" height="9" fill="#ff0000" />
<rect x="1128" y="275" width="1" height="16" fill="#ff0000" />
<rect x="1127" y="279" width="3" height="8" fill="#ff0000" />
<rect x="1132" y="270" width="1" height="11" fill="#ff0000" />
<rect x="1131" y="274" width="3" height="6" fill="#ff0000" />
<rect x="1136" y="269" width="1" height="11" fill="#ff0000" />
<rect x="1135" y="275" width="3" height="4" fill="#ff0000" />
<rect x="1140" y="266" width="1" height="12" fill="#ff0000" />
<rect x="1139" y="275" width="3" height="1" fill="#ff0000" />
<rect x="1144" y="274" width="1" height="16" fill="#00ff00" />
<rect x="1143" y="275" width="3" height="3" fill="#00ff00" />
<rect x="1148" y="263" width="1" height="18" fill="#ff0000" />
<rect x="1147" y="269" width="3" height="9" fill="#ff0000" />
<rect x="1152" y="252" width="1" height="18" fill="#ff0000" />
<rect x="1151" y="254" width="3" height="16" fill="#ff0000" />
<rect x="1156" y="250" width="1" height="8" fill="#ff0000" />
<rect x="1155" y="252" width="3" height="3" fill="#ff0000" />
<rect x="1160" y="248" width="1" height="7" fill="#ff0000" />
<rect x="1159" y="252" width="3" height="2" fill="#ff0000" />
<rect x="1164" y="242" width="1" height="22" fill="#00ff00" />
<rect x="1163" y="252" width="3" height="2" fill="#00ff00" />
<rect x="1168" y="239" width="1" height="19" fill="#ff0000" />
<rect x="1167" y="244" width="3" height="9" fill="#ff0000" />
<rect x="1172" y="237" width="1" height="17" fill="#00ff00" />
<rect x="1171" y="244" width="3" height="6" fill="#00ff00" />
<rect x="1176" y="239" width="1" height="37" fill="#00ff00" />
<rect x="1175" y="249" width="3" height="21" fill="#00ff00" />
<rect x="1180" y="267" width="1" height="7" fill="#00ff00" />
<rect x="1179" y="269" width="3" height="3" fill="#00ff00" />
<rect x="1184" y="253" width="1" height="26" fill="#00ff00" />
<rect x="1183" y="265" width="3" height="7" fill="#00ff00" />
<rect x="1188" y="258" width="1" height="26" fill="#00ff00" />
<rect x="1187" y="271" width="3" height="8" fill="#00ff00" />
<rect x="1192" y="271" width="1" height="25" fill="#ff0000" />
<rect x="1191" y="274" width="3" height="4" fill="#ff0000" />
<rect x="1196" y="272" width="1" height="50" fill="#00ff00" />
<rect x="1195" y="274" width="3" height="35" fill="#00ff00" />
<rect x="1200" y="296" width="1" height="58" fill="#00ff00" />
<rect x="1199" y="309" width="3" height="8" fill="#00ff00" />
<rect x="1204" y="313" width="1" height="21" fill="#00ff00" />
<rect x="1203" y="318" width="3" height="13" fill="#00ff00" />
<rect x="1208" y="331" width="1" height="55" fill="#00ff00" />
<rect x="1207" y="341" width="3" height="19" fill="#00ff00" />
<rect x="1212" y="354" width="1" height="46" fill="#00ff00" />
<rect x="1211" y="359" width="3" height="21" fill="#00ff00" />
<rect x="1216" y="359" width="1" height="33" fill="#00ff00" />
<rect x="1215" y="380" width="3" height="1" fill="#00ff00" />
<rect x="1220" y="368" width="1" height="37" fill="#00ff00" />
<rect x="1219" y="380" width="3" height="25" fill="#00ff00" />
<rect x="1224" y="404" width="1" height="91" fill="#00ff00" />
<rect x="1223" y="404" width="3" height="63" fill="#00ff00" />
<rect x="1228" y="460" width="1" height="21" fill="#00ff00" />
<rect x="1227" y="466" width="3" height="7" fill="#00ff00" />
<rect x="1232" y="494" width="1" height="66" fill="#ff0000" />
<rect x="1231" y="505" width="3" height="8" fill="#ff0000" />
<rect x="1236" y="469" width="1" height="70" fill="#ff0000" />
<rect x="1235" y="489" width="3" height="17" fill="#ff0000" />
<rect x="1240" y="450" width="1" height="43" fill="#ff0000" />
<rect x="1239" y="464" width="3" height="26" fill="#ff0000" />
<rect x="1244" y="387" width="1" height="107" fill="#ff0000" />
<rect x="1243" y="387" width="3" height="69" fill="#ff0000" />
<rect x="1248" y="380" width="1" height="64" fill="#00ff00" />
<rect x="1247" y="387" width="3" height="2" fill="#00ff00" />
<rect x="1252" y="378" width="1" height="24" fill="#ff0000" />
<rect x="1251" y="380" width="3" height="9" fill="#ff0000" />
<rect x="1256" y="394" width="1" height="66" fill="#ff0000" />
<rect x="1255" y="421" width="3" height="9" fill="#ff0000" />
<rect x="1260" y="335" width="1" height="99" fill="#ff0000" />
<rect x="1259" y="335" width="3" height="88" fill="#ff0000" />
<rect x="1264" y="291" width="1" height="83" fill="#ff0000" />
<rect x="1263" y="295" width="3" height="40" fill="#ff0000" />
<rect x="1268" y="285" width="1" height="55" fill="#00ff00" />
<rect x="1267" y="295" width="3" height="9" fill="#00ff00" />
</g>
<g clip-path="url(#cm)" fill="none" stroke-width="1" shape-rendering="crispEdges">
<path d="M1197.5 283v2M740.5 187v3M531.5 279v2M1127.5 302v3M461.5 213v2M785.5 195v2M1002.5 308v2M1203.5 298v3M511.5 299v2M765.5 215v2M346.5 265v5M332.5 187v4M349.5 279v2M792.5 209v3M342.5 240v6M305.5 209v2M761.5 223v2M286.5 195v3M574.5 252v4M269.5 141v2M368.5 269v3M1185.5 262v2M539.5 267v2M613.5 217v2M1131.5 291v3M814.5 205v3M582.5 229v2M301.5 215v2M1257.5 399v6M313.5 189v2M1243.5 466v4M1210.5 326v6M1236.5 466v4M338.5 216v6M1261.5 376v4M113.5 135v3M1212.5 337v4M1229.5 425v6M1239.5 476v3M1223.5 388v7M847.5 216v2M384.5 226v2M530.5 281v2M109.5 144v2M437.5 237v2M818.5 195v2M554.5 264v2M476.5 202v2M1252.5 421v5M905.5 197v3M414.5 227v2M987.5 268v2M411.5 220v2M906.5 200v3M1206.5 309v4M479.5 210v3M54.5 185v2M456.5 226v3M1219.5 365v4M527.5 287v2M1209.5 321v5M335.5 201v5M367.5 272v3M125.5 101v2M1130.5 294v2M238.5 127v2M997.5 294v3M312.5 191v3M1198.5 285v2M1255.5 410v4M1195.5 279v2M1000.5 304v2M510.5 297v2M871.5 191v2M375.5 253v2M1260.5 380v6M1202.5 295v3M1231.5 437v6M383.5 228v4M793.5 212v2M1215.5 349v4M30.5 189v2M351.5 282v2M794.5 214v3M282.5 181v4M817.5 197v3M31.5 191v2M1264.5 362v5M285.5 192v3M934.5 228v2M268.5 139v2M945.5 238v2M455.5 229v3M495.5 267v6M1251.5 426v6M116.5 125v3M1121.5 319v3M234.5 119v2M274.5 153v3M1071.5 318v2M275.5 156v3M1129.5 296v3M344.5 253v6M1235.5 460v6M894.5 170v2M1228.5 419v6M897.5 175v3M197.5 92v4M278.5 166v4M488.5 239v4M741.5 190v3M900.5 185v3M20.5 170v3M374.5 255v3M1052.5 318v2M132.5 84v2M23.5 177v2M587.5 219v2M439.5 241v2M807.5 221v2M576.5 245v3M985.5 264v2M412.5 222v3M553.5 262v2M986.5 266v2M865.5 204v2M333.5 191v5M751.5 218v3M334.5 196v5M992.5 280v3M1218.5 361v4M288.5 201v3M454.5 232v2M1250.5 432v6M115.5 128v3M1120.5 322v2M291.5 210v3M996.5 291v3M365.5 279v3M330.5 179v4M1230.5 431v6M29.5 187v2M458.5 220v3M575.5 248v4M119.5 116v3M864.5 206v2M932.5 224v2M799.5 225v2M381.5 236v4M877.5 181v2M343.5 246v7M1233.5 449v6M273.5 150v3M336.5 206v5M1227.5 413v6M535.5 273v2M1105.5 309v2M1262.5 371v5M1249.5 438v6M15.5 157v2M579.5 236v3M570.5 265v3M21.5 173v2M1221.5 375v7M764.5 217v2M811.5 213v2M240.5 131v2M243.5 137v2M1200.5 289v3M25.5 180v2M690.5 188v2M788.5 201v2M364.5 282v2M746.5 205v2M984.5 262v2M110.5 142v2M749.5 213v3M457.5 223v3M773.5 199v2M118.5 119v3M795.5 217v2M991.5 278v2M287.5 198v3M126.5 99v2M290.5 207v3M678.5 203v3M345.5 259v6M500.5 282v2M1046.5 306v2M810.5 215v2M501.5 284v3M279.5 170v4M1047.5 308v2M201.5 107v2M1240.5 478v3M407.5 212v2M902.5 190v2M868.5 197v2M490.5 246v3M493.5 256v6M526.5 289v2M1154.5 267v2M639.5 203v2M1106.5 311v2M378.5 246v2M16.5 159v2M1095.5 301v2M1107.5 313v2M522.5 296v2M1110.5 318v2M17.5 161v3M768.5 208v3M178.5 77v2M677.5 206v2M241.5 133v2M486.5 230v5M1069.5 321v2M242.5 135v2M1199.5 287v2M836.5 199v2M786.5 197v2M809.5 217v2M787.5 199v2M745.5 202v3M331.5 183v4M341.5 233v7M805.5 224v2M1225.5 401v6M466.5 205v2M525.5 291v2M1018.5 309v2M571.5 263v2M1187.5 266v2M767.5 211v2M177.5 79v2M451.5 239v2M1045.5 304v2M405.5 208v2M310.5 197v4M1267.5 350v4M200.5 104v3M323.5 174v2M489.5 243v3M1207.5 313v4M413.5 225v2M907.5 203v3M583.5 227v2M481.5 216v2M835.5 197v2M450.5 241v2M1214.5 345v4M347.5 270v6M1224.5 395v6M1003.5 310v2M1258.5 392v7M1132.5 289v2M270.5 143v2M947.5 242v2M233.5 117v2M1190.5 270v2M236.5 123v2M1193.5 275v2M736.5 179v2M609.5 225v2M198.5 96v4M694.5 183v2M18.5 164v3M487.5 235v4M896.5 173v2M743.5 196v3M819.5 192v3M555.5 266v2M1123.5 314v3M1226.5 407v6M573.5 256v4M753.5 223v2M994.5 286v2M1220.5 369v6M1166.5 253v2M998.5 297v4M376.5 250v3M1093.5 304v2M608.5 227v2M1248.5 444v6M176.5 81v2M122.5 108v3M309.5 201v3M1213.5 341v4M658.5 204v2M867.5 199v2M272.5 147v3M1122.5 317v2M946.5 240v2M738.5 183v2M460.5 215v2M121.5 111v2M1126.5 305v3M748.5 210v3M1247.5 450v4M1205.5 305v4M866.5 201v3M1232.5 443v6M129.5 92v3M752.5 221v2M316.5 183v2M993.5 283v3M391.5 214v2M189.5 79v2M813.5 208v2M292.5 213v2M1242.5 470v4M387.5 221v2M502.5 287v2M112.5 138v2M203.5 111v2M409.5 216v2M1259.5 386v6M657.5 202v2M406.5 210v2M370.5 265v2M1133.5 287v2M1234.5 455v5M315.5 185v2M1109.5 316v2M999.5 301v3M449.5 243v2M838.5 203v2M22.5 175v2M789.5 203v2M747.5 207v3M820.5 190v2M1204.5 301v4M1217.5 357v4M284.5 189v3M796.5 219v2M494.5 262v5M1101.5 303v2M578.5 239v3M339.5 222v5M202.5 109v2M408.5 214v2M415.5 229v2M1244.5 462v4M483.5 220v2M179.5 75v2M1111.5 320v2M138.5 78v2M742.5 193v3M837.5 201v2M321.5 177v2M585.5 223v2M1216.5 353v4M798.5 223v2M380.5 240v4M1103.5 306v2M10.5 148v2M1222.5 382v6M898.5 178v4M459.5 217v3M982.5 258v2M120.5 113v3M763.5 219v2M901.5 188v2M904.5 194v3M308.5 204v2M989.5 273v2M478.5 207v3M584.5 225v2M1208.5 317v4M755.5 227v2M482.5 218v2M862.5 209v2M537.5 270v2M533.5 276v2M340.5 227v6M281.5 177v4M762.5 221v2M529.5 283v2M369.5 267v2M271.5 145v2M314.5 187v2M12.5 151v2M337.5 211v5M377.5 248v2M385.5 224v2M509.5 295v2M686.5 193v2M988.5 270v3M477.5 204v3M106.5 148v2M528.5 285v2M754.5 225v2M191.5 83v2M524.5 293v2M497.5 276v2M329.5 175v4M504.5 292v2M280.5 174v3M1266.5 354v4M659.5 206v2M283.5 185v4M586.5 221v2M909.5 209v2M950.5 246v2M235.5 121v2M276.5 159v3M1192.5 273v2M739.5 185v2M577.5 242v3M348.5 276v3M791.5 207v2M395.5 208v2M879.5 177v2M542.5 263v2M581.5 231v2M875.5 184v2M190.5 81v2M612.5 219v2M496.5 273v3M1256.5 405v5M1238.5 473v3M328.5 172v3M568.5 270v2M503.5 289v3M1049.5 312v2M436.5 235v2M1125.5 308v3M492.5 252v4M204.5 113v2M1246.5 454v4M307.5 206v2M410.5 218v2M128.5 95v2M878.5 179v2M911.5 213v2M771.5 202v2M680.5 199v2M908.5 206v3M303.5 212v2M485.5 226v4M390.5 216v2M1194.5 277v2M737.5 181v2M580.5 233v3M124.5 103v3M874.5 186v2M812.5 210v3M311.5 194v3M1268.5 347v3M1201.5 292v3M839.5 205v2M870.5 193v2M111.5 140v2M1124.5 311v3M159.5 73v2M933.5 226v2M127.5 97v2M770.5 204v2M873.5 188v2M1128.5 299v3M1211.5 332v5M277.5 162v4M199.5 100v4M1237.5 470v3M1048.5 310v2M899.5 182v3M1051.5 316v2M869.5 195v2M981.5 256v2M1254.5 414v3M131.5 86v3M491.5 249v3M903.5 192v2M750.5 216v2M769.5 206v2M258.5 139v2M954.5 251v2M484.5 222v4M453.5 234v3M995.5 288v3M114.5 131v4M1162.5 258v2M28.5 185v2M157.5 70v2M1253.5 417v4M372.5 260v3M130.5 89v3M830.5 188v2M452.5 237v2M833.5 193v2M569.5 268v2M1265.5 358v4M990.5 275v3M117.5 122v3M289.5 204v3M499.5 280v2M1114.5 324v2M245.5 140v2M775.5 196v2M797.5 221v2M679.5 201v2M572.5 260v3M610.5 223v2M13.5 153v2M237.5 125v2M463.5 209v2M366.5 275v4M832.5 191v2M19.5 167v3M676.5 208v2M1241.5 474v4M744.5 199v3M808.5 219v2M382.5 232v4M1245.5 458v4M816.5 200v3M1186.5 264v2M1263.5 367v4M637.5 206v2M1044.5 302v2M462.5 211v2M247.5 143v2M123.5 106v2M766.5 213v2M845.5 213v2M438.5 239v2M373.5 258v2M480.5 213v3M910.5 211v2M815.5 203v2M1196.5 281v2M1001.5 306v2M508.5 293v2M1135.5 283v2M935.5 230v2M194.5 87v2M1050.5 314v2M983.5 260v2M371.5 263v2M1134.5 285v2M615.5 214v2M379.5 244v2M611.5 221v2M27.5 183v2M790.5 205v2M196.5 90v2M498.5 278v2M842.5 209v2M393.5 211v2M14.5 155v2M389.5 218v2M239.5 129v2M834.5 195v2M68 173.5h1M324 173.5h3M884 173.5h2M547 259.5h1M549 259.5h2M1181 259.5h2M512 301.5h1M1034 301.5h1M1042 301.5h2M1098 301.5h2M556 268.5h9M1188 268.5h1M388 220.5h1M590 220.5h1M927 220.5h2M352 284.5h2M363 284.5h1M262 136.5h2M265 136.5h1M294 216.5h1M614 216.5h1M854 216.5h1M913 216.5h2M920 216.5h1M260 137.5h2M266 137.5h1M942 236.5h2M79 167.5h2M296 218.5h3M588 218.5h1M848 218.5h5M916 218.5h2M923 218.5h1M207 116.5h1M219 116.5h1M223 116.5h4M231 116.5h2M538 269.5h1M565 269.5h2M1153 269.5h1M1189 269.5h1M51 189.5h1M712 189.5h7M822 189.5h2M1004 312.5h1M1012 312.5h5M1080 312.5h6M97 157.5h2M69 172.5h1M327 172.5h1M886 172.5h2M895 172.5h1M396 207.5h1M404 207.5h1M465 207.5h1M631 207.5h4M840 207.5h1M617 212.5h2M844 212.5h1M860 212.5h1M1060 326.5h3M1115 326.5h1M1117 326.5h1M306 208.5h1M464 208.5h1M624 208.5h7M635 208.5h2M660 208.5h1M841 208.5h1M863 208.5h1M1031 303.5h2M1094 303.5h1M646 198.5h2M651 198.5h2M681 198.5h2M774 198.5h1M354 285.5h2M362 285.5h1M440 243.5h3M394 210.5h1M620 210.5h2M663 210.5h1M674 210.5h2M1026 305.5h2M1102 305.5h1M52 188.5h1M710 188.5h2M719 188.5h2M824 188.5h2M81 166.5h2M960 256.5h3M965 256.5h2M1164 256.5h1M1178 256.5h1M293 215.5h1M846 215.5h1M855 215.5h1M912 215.5h1M536 272.5h1M1150 272.5h1M1191 272.5h1M304 211.5h1M619 211.5h1M664 211.5h10M843 211.5h1M861 211.5h1M50 190.5h1M689 190.5h1M821 190.5h1M831 190.5h1M872 190.5h1M56 183.5h1M699 183.5h1M703 183.5h2M727 183.5h1M876 183.5h1M32 193.5h1M44 193.5h3M779 193.5h1M782 193.5h2M443 244.5h4M948 244.5h1M1088 310.5h1M8 146.5h1M108 146.5h1M958 255.5h2M967 255.5h1M971 255.5h4M979 255.5h2M1165 255.5h1M1177 255.5h1M641 201.5h2M656 201.5h1M772 201.5h1M692 186.5h1M707 186.5h1M723 186.5h1M828 186.5h1M1148 274.5h1M72 169.5h3M891 169.5h1M893 169.5h1M193 86.5h1M4 142.5h1M246 142.5h1M256 142.5h1M514 299.5h1M520 299.5h1M1036 299.5h3M34 195.5h1M40 195.5h2M685 195.5h1M776 195.5h1M544 261.5h1M552 261.5h1M1160 261.5h1M1184 261.5h1M36 197.5h2M648 197.5h3M683 197.5h1M399 204.5h1M401 204.5h1M467 204.5h1M422 232.5h2M426 232.5h2M430 232.5h2M936 232.5h1M424 233.5h2M432 233.5h2M937 233.5h2M940 235.5h2M541 265.5h1M1156 265.5h1M205 115.5h2M220 115.5h3M227 115.5h4M139 77.5h1M166 77.5h2M187 77.5h1M211 118.5h4M217 118.5h1M532 278.5h1M1140 278.5h2M65 176.5h1M322 176.5h1M880 176.5h1M1057 324.5h2M1066 324.5h2M1119 324.5h1M602 230.5h2M605 230.5h2M397 206.5h1M403 206.5h1M1059 325.5h1M1063 325.5h3M1118 325.5h1M359 287.5h2M548 258.5h1M1180 258.5h1M66 175.5h1M881 175.5h2M33 194.5h1M42 194.5h2M777 194.5h2M784 194.5h1M75 168.5h4M892 168.5h1M195 89.5h1M1008 315.5h1M1076 315.5h1M1108 315.5h1M1007 314.5h1M1009 314.5h2M1077 314.5h2M597 226.5h1M759 226.5h1M803 226.5h2M67 174.5h1M883 174.5h1M1054 321.5h1M956 254.5h2M968 254.5h3M975 254.5h4M1176 254.5h1M596 225.5h1M760 225.5h1M1055 322.5h1M1112 322.5h1M1028 304.5h3M55 184.5h1M700 184.5h3M705 184.5h1M725 184.5h2M295 217.5h1M299 217.5h2M853 217.5h1M915 217.5h1M918 217.5h2M921 217.5h2M26 182.5h1M57 182.5h1M317 182.5h1M695 182.5h1M697 182.5h2M728 182.5h1M622 209.5h2M661 209.5h2M386 223.5h1M593 223.5h2M806 223.5h1M931 223.5h1M62 178.5h2M35 196.5h1M38 196.5h2M684 196.5h1M1019 308.5h1M1090 308.5h1M1104 308.5h1M141 75.5h1M160 75.5h3M185 75.5h1M6 144.5h1M253 144.5h2M136 81.5h1M174 81.5h2M644 199.5h2M653 199.5h2M599 228.5h1M757 228.5h1M1017 311.5h1M1086 311.5h2M600 229.5h2M607 229.5h1M756 229.5h1M148 68.5h2M264 135.5h1M9 147.5h1M107 147.5h1M142 74.5h1M180 74.5h5M392 213.5h1M616 213.5h1M858 213.5h2M1005 313.5h2M1011 313.5h1M1079 313.5h1M208 117.5h3M218 117.5h1M398 205.5h1M402 205.5h1M638 205.5h1M545 260.5h2M551 260.5h1M1161 260.5h1M1183 260.5h1M416 231.5h6M428 231.5h2M604 231.5h1M540 266.5h1M1155 266.5h1M953 250.5h1M1171 250.5h2M1136 282.5h1M1023 306.5h3M1092 306.5h1M103 152.5h1M47 192.5h2M687 192.5h1M780 192.5h2M140 76.5h1M163 76.5h3M186 76.5h1M59 180.5h1M319 180.5h1M731 180.5h1M356 286.5h3M361 286.5h1M434 234.5h2M939 234.5h1M475 202.5h1M640 202.5h1M257 141.5h1M515 298.5h1M518 298.5h2M521 298.5h1M534 275.5h1M1146 275.5h2M133 83.5h2M513 300.5h1M1035 300.5h1M1039 300.5h3M1096 300.5h2M643 200.5h1M655 200.5h1M447 245.5h2M949 245.5h1M1056 323.5h1M1068 323.5h1M1113 323.5h1M215 119.5h2M24 179.5h1M60 179.5h2M320 179.5h1M732 179.5h4M147 69.5h1M150 69.5h2M155 69.5h2M592 222.5h1M930 222.5h1M144 72.5h1M158 72.5h1M1074 316.5h2M302 214.5h1M856 214.5h2M96 158.5h1M92 160.5h2M170 79.5h2M591 221.5h1M929 221.5h1M53 187.5h1M691 187.5h1M708 187.5h2M721 187.5h2M826 187.5h2M829 187.5h1M350 281.5h1M1137 281.5h1M589 219.5h1M924 219.5h3M94 159.5h2M516 297.5h2M71 170.5h1M889 170.5h2M598 227.5h1M758 227.5h1M800 227.5h3M1167 252.5h1M1174 252.5h1M7 145.5h1M248 145.5h5M102 153.5h1M693 185.5h1M706 185.5h1M724 185.5h1M1142 277.5h2M543 262.5h1M1159 262.5h1M86 163.5h2M1168 251.5h3M1173 251.5h1M963 257.5h2M1163 257.5h1M1179 257.5h1M400 203.5h1M468 203.5h7M11 150.5h1M105 150.5h1M70 171.5h1M888 171.5h1M137 80.5h1M172 80.5h2M83 165.5h1M101 154.5h1M168 78.5h2M188 78.5h1M146 70.5h1M152 70.5h3M1158 263.5h1M84 164.5h2M145 71.5h1M1072 317.5h2M1020 307.5h3M1091 307.5h1M1138 280.5h1M5 143.5h1M255 143.5h1M49 191.5h1M688 191.5h1M58 181.5h1M318 181.5h1M696 181.5h1M729 181.5h2M100 155.5h1M1144 276.5h2M567 270.5h1M1152 270.5h1M259 138.5h1M267 138.5h1M955 253.5h1M1175 253.5h1M505 293.5h3M88 162.5h2M952 249.5h1M244 139.5h1M99 156.5h1M1033 302.5h1M1100 302.5h1M1151 271.5h1M1089 309.5h1M944 237.5h1M192 85.5h1M64 177.5h1M951 248.5h1M523 295.5h1M1053 320.5h1M1070 320.5h1M90 161.5h2M1139 279.5h1M1157 264.5h1M104 151.5h1M1149 273.5h1M143 73.5h1M1116 327.5h1M135 82.5h1M595 224.5h1" stroke="#ffa500" />
<path d="M33.5 159v2M1166.5 272v2M273.5 139v2M277.5 146v2M1231.5 351v4M152.5 92v2M512.5 255v2M1249.5 404v2M1252.5 409v2M117.5 148v2M1013.5 284v2M1224.5 323v5M283.5 157v2M1238.5 378v4M504.5 241v2M123.5 140v2M1241.5 389v2M1245.5 397v2M361.5 233v2M742.5 189v2M1153.5 291v2M1234.5 363v4M147.5 100v2M1237.5 374v4M276.5 144v2M279.5 149v2M143.5 107v2M1206.5 278v2M1227.5 336v4M1230.5 347v4M986.5 253v2M989.5 257v2M1255.5 413v2M1000.5 272v2M1223.5 319v4M1240.5 386v3M1243.5 393v2M289.5 165v2M362.5 235v2M571.5 264v2M1204.5 274v2M506.5 245v2M570.5 266v2M940.5 215v2M150.5 95v2M992.5 261v2M132.5 125v2M1222.5 314v5M128.5 132v2M516.5 262v2M505.5 243v2M1217.5 299v2M994.5 264v2M1221.5 310v4M352.5 220v2M934.5 207v2M518.5 265v2M515.5 260v2M155.5 87v2M1216.5 296v3M134.5 122v2M1208.5 282v2M355.5 224v2M1159.5 283v2M1239.5 382v4M141.5 110v2M1242.5 391v2M120.5 144v2M365.5 239v2M144.5 105v2M36.5 163v2M280.5 151v2M1210.5 285v2M1228.5 340v4M140.5 112v2M939.5 213v2M272.5 137v2M1244.5 395v2M135.5 120v2M606.5 237v2M38.5 166v2M131.5 127v2M393.5 249v2M154.5 89v2M1219.5 304v2M944.5 222v2M1236.5 370v4M233.5 107v2M236.5 112v2M1162.5 277v2M1232.5 355v4M149.5 97v2M1225.5 328v4M1214.5 291v2M509.5 250v2M1218.5 301v3M1235.5 367v3M1203.5 272v2M368.5 243v2M371.5 247v2M511.5 253v2M1233.5 359v4M281.5 153v2M1226.5 332v4M126.5 135v2M521.5 269v2M114.5 152v2M40.5 169v2M739.5 185v2M235.5 110v2M1248.5 402v2M359.5 230v2M1213.5 289v2M1220.5 306v4M941.5 217v2M525.5 274v2M1205.5 276v2M496.5 230v2M499.5 234v2M1229.5 344v3M574.5 259v2M1215.5 293v3M310.5 185v2M943.5 220v2M887.5 192v2M573.5 261v2M387.5 256v2M398.5 243v2M1161.5 279v2M124.5 138v2M508.5 248v2M282.5 155v2M345.5 212v2M1160.5 281v2M1156.5 287v2M374.5 251v2M274.5 141v2M337.5 203v2M138.5 115v2M513.5 257v2M1247.5 400v2M1250.5 406v2M284.5 159v2M358.5 228v2M137.5 117v2M129.5 130v2M1207.5 280v2M43.5 173v2M238.5 115v2M146.5 102v2M30.5 155v2M996.5 267v2M528.5 278v2M502.5 238v2M403.5 237v2M384 260.5h1M991 260.5h1M311 187.5h1M721 187.5h2M740 187.5h1M373 250.5h1M585 250.5h2M981 250.5h2M331 197.5h1M692 197.5h11M753 197.5h2M881 197.5h2M924 197.5h1M522 271.5h1M565 271.5h2M999 271.5h1M1167 271.5h1M1202 271.5h1M360 232.5h1M408 232.5h1M497 232.5h1M611 232.5h1M953 232.5h2M416 225.5h1M439 225.5h1M464 225.5h3M486 225.5h2M618 225.5h1M946 225.5h1M338 205.5h1M661 205.5h17M784 205.5h1M814 205.5h2M831 205.5h2M849 205.5h3M932 205.5h1M406 234.5h1M609 234.5h1M956 234.5h2M97 167.5h2M290 167.5h1M407 233.5h1M498 233.5h1M610 233.5h1M955 233.5h1M339 206.5h1M650 206.5h11M785 206.5h2M812 206.5h2M833 206.5h3M846 206.5h3M933 206.5h1M94 169.5h2M292 169.5h1M1080 314.5h6M1091 314.5h3M1105 314.5h11M401 240.5h1M503 240.5h1M604 240.5h1M965 240.5h1M344 211.5h1M644 211.5h2M791 211.5h2M802 211.5h2M937 211.5h1M313 189.5h1M717 189.5h2M890 189.5h3M898 189.5h15M37 165.5h1M101 165.5h1M133 124.5h1M247 124.5h2M4 142.5h6M15 142.5h2M122 142.5h1M176 74.5h3M187 74.5h2M572 263.5h1M993 263.5h1M1183 263.5h10M156 86.5h2M201 86.5h1M357 227.5h1M414 227.5h1M442 227.5h1M459 227.5h3M490 227.5h2M616 227.5h1M948 227.5h1M342 209.5h1M647 209.5h1M789 209.5h1M806 209.5h2M935 209.5h1M320 193.5h7M710 193.5h2M746 193.5h2M919 193.5h2M314 190.5h2M715 190.5h2M889 190.5h1M913 190.5h4M329 196.5h2M703 196.5h3M751 196.5h2M883 196.5h2M923 196.5h1M995 266.5h1M1173 266.5h1M1197 266.5h1M379 256.5h1M577 256.5h2M988 256.5h1M343 210.5h1M646 210.5h1M790 210.5h1M804 210.5h2M936 210.5h1M367 242.5h1M399 242.5h1M601 242.5h2M967 242.5h2M1052 310.5h6M1122 310.5h2M377 255.5h2M388 255.5h1M579 255.5h1M987 255.5h1M402 239.5h1M605 239.5h1M963 239.5h2M1253 411.5h1M1264 411.5h1M567 270.5h1M998 270.5h1M1168 270.5h1M1201 270.5h1M380 257.5h1M576 257.5h1M395 247.5h1M507 247.5h1M591 247.5h2M976 247.5h2M413 228.5h1M443 228.5h2M456 228.5h3M492 228.5h2M615 228.5h1M949 228.5h1M1038 305.5h1M1131 305.5h2M599 243.5h2M969 243.5h1M333 199.5h1M685 199.5h3M757 199.5h2M874 199.5h4M926 199.5h1M530 281.5h3M542 281.5h2M1010 281.5h1M148 99.5h1M219 99.5h2M340 207.5h1M649 207.5h1M787 207.5h1M810 207.5h2M836 207.5h4M843 207.5h3M412 229.5h1M445 229.5h1M453 229.5h3M494 229.5h2M614 229.5h1M950 229.5h1M679 203.5h1M780 203.5h2M818 203.5h11M855 203.5h2M930 203.5h1M1023 295.5h1M1148 295.5h2M678 204.5h1M782 204.5h2M816 204.5h2M829 204.5h2M852 204.5h3M931 204.5h1M58 183.5h6M69 183.5h3M308 183.5h1M730 183.5h2M735 183.5h2M312 188.5h1M719 188.5h2M741 188.5h1M893 188.5h5M1072 312.5h3M1118 312.5h2M242 120.5h2M166 79.5h1M194 79.5h1M35 162.5h1M105 162.5h1M286 162.5h1M50 179.5h2M79 179.5h3M303 179.5h2M104 163.5h1M287 163.5h1M411 230.5h1M446 230.5h2M450 230.5h3M613 230.5h1M951 230.5h1M642 212.5h2M793 212.5h1M800 212.5h2M938 212.5h1M1075 313.5h5M1094 313.5h11M1116 313.5h2M1036 304.5h2M1133 304.5h1M151 94.5h1M210 94.5h2M364 238.5h1M962 238.5h1M375 253.5h1M390 253.5h1M581 253.5h2M1039 306.5h2M1129 306.5h2M1043 308.5h4M1125 308.5h2M533 282.5h4M540 282.5h2M1011 282.5h1M25 150.5h1M116 150.5h1M17 143.5h1M121 143.5h1M275 143.5h1M45 176.5h2M86 176.5h2M300 176.5h1M111 156.5h1M173 75.5h3M189 75.5h1M171 76.5h2M190 76.5h1M182 72.5h3M639 213.5h3M794 213.5h6M529 280.5h1M544 280.5h4M1008 280.5h2M421 221.5h1M432 221.5h2M474 221.5h2M478 221.5h2M623 221.5h1M422 220.5h10M476 220.5h2M624 220.5h1M381 258.5h2M386 258.5h1M575 258.5h1M394 248.5h1M589 248.5h2M978 248.5h1M383 259.5h1M385 259.5h1M514 259.5h1M990 259.5h1M404 236.5h1M500 236.5h1M607 236.5h1M959 236.5h2M372 249.5h1M587 249.5h2M979 249.5h2M56 182.5h2M72 182.5h2M307 182.5h1M732 182.5h3M523 272.5h1M564 272.5h1M64 184.5h5M309 184.5h1M728 184.5h2M737 184.5h2M27 152.5h1M142 109.5h1M234 109.5h1M252 126.5h3M318 192.5h2M712 192.5h2M744 192.5h2M918 192.5h1M179 73.5h3M185 73.5h2M334 200.5h1M683 200.5h2M759 200.5h2M864 200.5h10M927 200.5h1M517 264.5h1M1177 264.5h6M1193 264.5h2M348 216.5h1M630 216.5h3M548 279.5h4M1007 279.5h1M366 241.5h1M400 241.5h1M603 241.5h1M966 241.5h1M370 246.5h1M396 246.5h1M593 246.5h2M974 246.5h2M332 198.5h1M688 198.5h4M755 198.5h2M878 198.5h3M925 198.5h1M335 201.5h1M681 201.5h2M761 201.5h15M860 201.5h4M928 201.5h1M1058 311.5h14M1120 311.5h2M316 191.5h2M714 191.5h1M743 191.5h1M888 191.5h1M917 191.5h1M203 88.5h1M1261 414.5h1M1257 416.5h2M560 275.5h2M1002 275.5h1M1164 275.5h1M405 235.5h1M608 235.5h1M958 235.5h1M1086 315.5h5M1022 294.5h1M1150 294.5h2M223 101.5h2M356 226.5h1M415 226.5h1M440 226.5h2M462 226.5h2M488 226.5h2M617 226.5h1M947 226.5h1M225 102.5h1M350 218.5h1M627 218.5h1M39 168.5h1M96 168.5h1M291 168.5h1M351 219.5h1M625 219.5h2M942 219.5h1M1256 415.5h1M1259 415.5h2M392 251.5h1M584 251.5h1M983 251.5h2M1018 290.5h1M1154 290.5h1M527 277.5h1M556 277.5h2M1004 277.5h1M163 81.5h2M196 81.5h1M212 95.5h2M597 244.5h2M970 244.5h2M354 223.5h1M419 223.5h1M436 223.5h1M470 223.5h2M482 223.5h2M620 223.5h1M369 245.5h1M397 245.5h1M595 245.5h2M972 245.5h2M552 278.5h4M1005 278.5h2M26 151.5h1M115 151.5h1M31 157.5h1M110 157.5h1M32 158.5h1M109 158.5h1M245 122.5h1M44 175.5h1M88 175.5h1M299 175.5h1M1033 302.5h2M1136 302.5h2M93 170.5h1M293 170.5h1M353 222.5h1M420 222.5h1M434 222.5h2M472 222.5h2M480 222.5h2M621 222.5h2M169 77.5h2M191 77.5h1M524 273.5h1M563 273.5h1M145 104.5h1M228 104.5h2M230 105.5h2M336 202.5h1M680 202.5h1M776 202.5h4M857 202.5h3M929 202.5h1M519 267.5h1M1171 267.5h2M1198 267.5h1M167 78.5h2M192 78.5h2M221 100.5h2M341 208.5h1M648 208.5h1M788 208.5h1M808 208.5h2M840 208.5h3M34 161.5h1M106 161.5h1M285 161.5h1M130 129.5h1M261 129.5h2M216 97.5h2M1024 296.5h1M1147 296.5h1M1027 298.5h1M1143 298.5h2M160 84.5h1M199 84.5h1M526 276.5h1M558 276.5h2M1003 276.5h1M1163 276.5h1M158 85.5h2M200 85.5h1M409 231.5h2M448 231.5h2M612 231.5h1M952 231.5h1M52 180.5h2M77 180.5h2M305 180.5h1M568 269.5h1M997 269.5h1M1169 269.5h1M1200 269.5h1M102 164.5h2M288 164.5h1M520 268.5h1M569 268.5h1M1170 268.5h1M1199 268.5h1M205 90.5h1M161 83.5h1M198 83.5h1M346 214.5h1M635 214.5h4M347 215.5h1M633 215.5h2M1020 292.5h1M226 103.5h2M1047 309.5h5M1124 309.5h1M136 119.5h1M241 119.5h1M537 283.5h3M1012 283.5h1M214 96.5h2M376 254.5h1M389 254.5h1M580 254.5h1M349 217.5h1M628 217.5h2M47 177.5h2M84 177.5h2M301 177.5h1M363 237.5h1M501 237.5h1M961 237.5h1M139 114.5h1M237 114.5h1M267 133.5h2M42 172.5h1M91 172.5h1M295 172.5h1M90 173.5h1M296 173.5h2M1016 288.5h1M1212 288.5h1M1041 307.5h2M1127 307.5h2M1014 286.5h1M1157 286.5h1M1015 287.5h1M1211 287.5h1M232 106.5h1M263 130.5h2M1025 297.5h2M1145 297.5h2M165 80.5h1M195 80.5h1M125 137.5h1M417 224.5h2M437 224.5h2M467 224.5h3M484 224.5h2M619 224.5h1M945 224.5h1M153 91.5h1M206 91.5h2M1174 265.5h3M1195 265.5h2M18 144.5h1M108 159.5h1M1031 301.5h2M1138 301.5h2M1035 303.5h1M1134 303.5h2M1017 289.5h1M1155 289.5h1M10 141.5h5M208 92.5h1M162 82.5h1M197 82.5h1M209 93.5h1M391 252.5h1M510 252.5h1M583 252.5h1M985 252.5h1M258 128.5h3M204 89.5h1M54 181.5h2M74 181.5h3M306 181.5h1M218 98.5h1M1265 410.5h1M328 195.5h1M706 195.5h2M750 195.5h1M885 195.5h1M922 195.5h1M127 134.5h1M269 134.5h1M725 185.5h3M270 135.5h1M89 174.5h1M298 174.5h1M327 194.5h1M708 194.5h2M748 194.5h2M886 194.5h1M921 194.5h1M1246 399.5h1M265 131.5h1M562 274.5h1M1001 274.5h1M1165 274.5h1M266 132.5h1M41 171.5h1M92 171.5h1M294 171.5h1M1019 291.5h1M1029 300.5h2M1140 300.5h2M28 153.5h1M23 148.5h1M278 148.5h1M1209 284.5h1M1266 409.5h1M1254 412.5h1M1263 412.5h1M1021 293.5h1M1152 293.5h1M255 127.5h3M1158 285.5h1M723 186.5h2M29 154.5h1M113 154.5h1M202 87.5h1M21 146.5h1M119 146.5h1M1028 299.5h1M1142 299.5h1M246 123.5h1M99 166.5h2M24 149.5h1M49 178.5h1M82 178.5h2M302 178.5h1M107 160.5h1M1262 413.5h1M19 145.5h2M249 125.5h3M271 136.5h1M244 121.5h1M22 147.5h1M118 147.5h1M239 117.5h1M240 118.5h1M112 155.5h1M1251 408.5h1M1267 408.5h1" stroke="#ff0000" />
<path d="M1237.5 318v2M285.5 126v2M337.5 173v2M340.5 178v2M351.5 193v2M302.5 146v2M1239.5 321v2M335.5 170v2M339.5 176v2M999.5 240v2M1229.5 307v2M296.5 139v2M155.5 131v2M149.5 139v2M1223.5 300v2M290.5 132v2M1233.5 312v2M510.5 237v2M1006.5 249v2M1236.5 316v2M342.5 181v2M345.5 185v2M143.5 146v2M1003.5 245v2M334.5 168v2M152.5 135v2M348.5 189v2M171 116.5h2M274 116.5h1M1096 308.5h2M1132 308.5h4M1249 330.5h1M151 137.5h1M294 137.5h1M97 166.5h3M115 166.5h2M332 166.5h1M1072 297.5h3M1164 297.5h2M1220 297.5h1M195 100.5h2M250 100.5h2M1058 290.5h2M1176 290.5h2M1211 290.5h2M432 232.5h1M464 232.5h1M504 232.5h2M642 232.5h2M991 232.5h1M1053 286.5h1M1185 286.5h2M1201 286.5h6M191 102.5h2M254 102.5h2M60 164.5h11M90 164.5h4M119 164.5h1M330 164.5h1M38 161.5h4M124 161.5h2M327 161.5h1M1060 291.5h1M1174 291.5h2M1213 291.5h1M32 159.5h2M128 159.5h2M320 159.5h4M24 155.5h2M134 155.5h1M312 155.5h2M356 199.5h1M715 199.5h2M799 199.5h4M878 199.5h6M898 199.5h13M926 199.5h3M434 234.5h2M461 234.5h1M507 234.5h1M639 234.5h1M993 234.5h1M371 213.5h1M679 213.5h1M961 213.5h2M1041 277.5h1M34 160.5h4M126 160.5h2M324 160.5h3M49 163.5h11M71 163.5h19M120 163.5h2M329 163.5h1M18 151.5h1M139 151.5h1M306 151.5h2M389 224.5h8M479 224.5h6M661 224.5h2M979 224.5h2M439 238.5h2M455 238.5h2M634 238.5h2M997 238.5h1M347 188.5h1M1242 325.5h2M443 240.5h2M451 240.5h2M512 240.5h1M632 240.5h1M1244 326.5h1M353 196.5h1M722 196.5h4M749 196.5h3M777 196.5h11M433 233.5h1M462 233.5h2M506 233.5h1M640 233.5h2M992 233.5h1M418 227.5h4M472 227.5h2M493 227.5h3M652 227.5h2M984 227.5h2M437 236.5h1M458 236.5h2M509 236.5h1M637 236.5h1M995 236.5h1M1036 274.5h2M362 205.5h1M696 205.5h9M840 205.5h2M865 205.5h2M939 205.5h2M358 201.5h1M711 201.5h2M806 201.5h5M818 201.5h13M874 201.5h2M931 201.5h2M438 237.5h1M457 237.5h1M636 237.5h1M996 237.5h1M1027 269.5h2M574 260.5h14M607 260.5h1M1016 260.5h1M1029 270.5h2M436 235.5h1M460 235.5h1M508 235.5h1M638 235.5h1M994 235.5h1M355 198.5h1M717 198.5h2M754 198.5h19M794 198.5h5M884 198.5h14M911 198.5h4M923 198.5h3M1052 285.5h1M1187 285.5h14M364 207.5h1M690 207.5h2M845 207.5h3M861 207.5h2M943 207.5h2M1250 331.5h1M365 208.5h1M688 208.5h2M848 208.5h3M856 208.5h5M945 208.5h2M217 93.5h5M234 93.5h2M1240 323.5h1M1251 332.5h1M422 228.5h4M470 228.5h2M496 228.5h2M650 228.5h2M986 228.5h1M28 157.5h2M131 157.5h1M316 157.5h2M1080 301.5h2M1156 301.5h2M1023 266.5h2M357 200.5h1M713 200.5h2M803 200.5h3M876 200.5h2M929 200.5h2M163 124.5h1M283 124.5h1M366 209.5h1M686 209.5h2M851 209.5h5M947 209.5h4M1098 309.5h2M1127 309.5h5M1230 309.5h1M1262 341.5h3M214 94.5h3M236 94.5h3M1265 342.5h3M593 262.5h3M601 262.5h4M1018 262.5h2M352 195.5h1M726 195.5h4M745 195.5h4M1257 338.5h1M1246 328.5h2M354 197.5h1M719 197.5h3M752 197.5h2M773 197.5h4M788 197.5h6M915 197.5h8M519 246.5h1M625 246.5h2M426 229.5h2M468 229.5h2M498 229.5h2M648 229.5h2M987 229.5h2M539 252.5h5M618 252.5h1M1008 252.5h1M1063 293.5h2M1171 293.5h1M1215 293.5h1M150 138.5h1M295 138.5h1M377 218.5h1M671 218.5h2M970 218.5h2M222 92.5h12M428 230.5h2M466 230.5h2M500 230.5h2M646 230.5h2M989 230.5h1M145 144.5h1M300 144.5h1M30 158.5h2M130 158.5h1M318 158.5h2M22 154.5h2M135 154.5h1M311 154.5h1M409 226.5h9M474 226.5h2M490 226.5h3M654 226.5h3M982 226.5h2M1085 304.5h2M1149 304.5h2M1226 304.5h1M207 96.5h3M241 96.5h3M1091 306.5h3M1142 306.5h5M1228 306.5h1M156 130.5h1M288 130.5h1M1087 305.5h4M1147 305.5h2M1227 305.5h1M21 153.5h1M136 153.5h2M309 153.5h2M1100 310.5h3M1122 310.5h5M1231 310.5h1M200 98.5h4M246 98.5h2M359 202.5h1M709 202.5h2M811 202.5h7M831 202.5h4M871 202.5h3M933 202.5h2M1241 324.5h1M528 250.5h7M621 250.5h1M1033 272.5h2M1055 288.5h2M1180 288.5h3M1209 288.5h1M554 256.5h3M612 256.5h1M1012 256.5h1M180 109.5h2M267 109.5h1M1110 313.5h4M557 257.5h12M611 257.5h1M1013 257.5h1M176 112.5h2M270 112.5h1M372 214.5h1M677 214.5h2M963 214.5h2M193 101.5h2M252 101.5h2M1054 287.5h1M1183 287.5h2M1207 287.5h2M535 251.5h4M619 251.5h2M1007 251.5h1M447 242.5h2M514 242.5h1M630 242.5h1M1000 242.5h1M186 105.5h1M261 105.5h2M178 111.5h1M269 111.5h1M103 168.5h10M1061 292.5h2M1172 292.5h2M1214 292.5h1M1083 303.5h2M1151 303.5h3M1225 303.5h1M368 211.5h2M682 211.5h2M955 211.5h3M210 95.5h4M239 95.5h2M370 212.5h1M680 212.5h2M958 212.5h3M1106 312.5h4M1114 312.5h4M157 129.5h2M287 129.5h1M397 225.5h12M476 225.5h3M485 225.5h5M657 225.5h4M981 225.5h1M367 210.5h1M684 210.5h2M951 210.5h4M1075 298.5h2M1162 298.5h2M1221 298.5h1M441 239.5h2M453 239.5h2M511 239.5h1M633 239.5h1M998 239.5h1M1082 302.5h1M1154 302.5h2M1224 302.5h1M380 220.5h1M668 220.5h2M973 220.5h2M16 150.5h2M140 150.5h1M305 150.5h1M1065 294.5h2M1169 294.5h2M1216 294.5h2M1253 334.5h1M154 133.5h1M363 206.5h1M692 206.5h4M842 206.5h3M863 206.5h2M941 206.5h2M730 194.5h4M740 194.5h5M1103 311.5h3M1118 311.5h4M1232 311.5h1M42 162.5h7M122 162.5h2M328 162.5h1M161 126.5h1M289 131.5h1M187 104.5h2M259 104.5h2M569 258.5h3M609 258.5h2M1014 258.5h1M1258 339.5h2M445 241.5h2M449 241.5h2M513 241.5h1M631 241.5h1M1260 340.5h2M1069 296.5h3M1166 296.5h1M1219 296.5h1M1067 295.5h2M1167 295.5h2M1218 295.5h1M168 119.5h1M277 119.5h2M360 203.5h1M707 203.5h2M835 203.5h3M869 203.5h2M935 203.5h2M1022 265.5h1M520 247.5h2M624 247.5h1M1004 247.5h1M523 249.5h5M622 249.5h1M26 156.5h2M132 156.5h2M314 156.5h2M175 113.5h1M271 113.5h1M1255 336.5h1M1256 337.5h1M430 231.5h2M465 231.5h1M502 231.5h2M644 231.5h2M990 231.5h1M596 263.5h5M1020 263.5h1M183 107.5h2M265 107.5h1M14 149.5h2M141 149.5h1M304 149.5h1M153 134.5h1M291 134.5h1M292 135.5h1M734 193.5h6M544 253.5h4M616 253.5h2M1009 253.5h1M516 244.5h2M628 244.5h1M1002 244.5h1M185 106.5h1M263 106.5h2M1094 307.5h2M1136 307.5h6M375 217.5h2M673 217.5h1M968 217.5h2M381 221.5h2M667 221.5h1M975 221.5h1M4 148.5h10M142 148.5h1M303 148.5h1M174 114.5h1M272 114.5h1M293 136.5h1M515 243.5h1M629 243.5h1M1001 243.5h1M518 245.5h1M627 245.5h1M19 152.5h2M138 152.5h1M308 152.5h1M160 127.5h1M572 259.5h2M608 259.5h1M1015 259.5h1M341 180.5h1M551 255.5h3M613 255.5h2M1011 255.5h1M361 204.5h1M705 204.5h2M838 204.5h2M867 204.5h2M937 204.5h2M378 219.5h2M670 219.5h1M972 219.5h1M385 223.5h4M663 223.5h2M978 223.5h1M197 99.5h3M248 99.5h2M182 108.5h1M266 108.5h1M189 103.5h2M256 103.5h3M343 183.5h1M1077 299.5h2M1160 299.5h2M1222 299.5h1M162 125.5h1M284 125.5h1M147 142.5h1M298 142.5h1M383 222.5h2M665 222.5h2M976 222.5h2M548 254.5h3M615 254.5h1M1010 254.5h1M1254 335.5h1M373 215.5h1M676 215.5h1M965 215.5h2M169 118.5h1M276 118.5h1M146 143.5h1M299 143.5h1M166 121.5h1M280 121.5h1M94 165.5h3M117 165.5h2M331 165.5h1M374 216.5h1M674 216.5h2M967 216.5h1M1234 314.5h1M588 261.5h5M605 261.5h2M1017 261.5h1M179 110.5h1M268 110.5h1M100 167.5h3M113 167.5h2M333 167.5h1M522 248.5h1M623 248.5h1M1005 248.5h1M1031 271.5h2M1057 289.5h1M1178 289.5h2M1210 289.5h1M173 115.5h1M273 115.5h1M1079 300.5h1M1158 300.5h2M165 122.5h1M281 122.5h1M144 145.5h1M301 145.5h1M204 97.5h3M244 97.5h2M344 184.5h1M167 120.5h1M279 120.5h1M1039 276.5h2M346 187.5h1M1035 273.5h1M170 117.5h1M275 117.5h1M148 141.5h1M297 141.5h1M164 123.5h1M282 123.5h1M1044 279.5h1M159 128.5h1M286 128.5h1M336 172.5h1M350 192.5h1M1046 281.5h2M1235 315.5h1M1238 320.5h1M1042 278.5h2M338 175.5h1M1245 327.5h1M1038 275.5h1M1252 333.5h1M1050 284.5h2M1025 267.5h1M1026 268.5h1M1048 282.5h1M1021 264.5h1M1049 283.5h1M349 191.5h1M1045 280.5h1M1248 329.5h1" stroke="#0000cd" />
</g>
<rect x="4" y="104" width="1592" height="2" fill="#ff0000" />
<rect x="4" y="172" width="1592" height="2" fill="#ff0000" />
<rect x="4" y="225" width="1592" height="2" fill="#ff0000" />
<rect x="4" y="317" width="1592" height="2" fill="#ff0000" />
<rect x="4" y="372" width="1592" height="2" fill="#ff0000" />
<rect x="4" y="453" width="1592" height="2" fill="#00ff00" />
<rect x="4" y="506" width="1592" height="2" fill="#0000ff" />
<rect x="4" y="560" width="1592" height="2" fill="#0000ff" />
<rect x="1598" y="99" width="41" height="11" fill="#ff0000" />
<text x="1602.5" y="108.1" font-size="10.4" fill="#fff" stroke="#fff" stroke-width="0.22" textLength="32.4" lengthAdjust="spacingAndGlyphs" >1.01207</text>
<rect x="1598" y="167" width="41" height="11" fill="#ff0000" />
<text x="1602.5" y="176.1" font-size="10.4" fill="#fff" stroke="#fff" stroke-width="0.22" textLength="32.4" lengthAdjust="spacingAndGlyphs" >0.99800</text>
<rect x="1598" y="220" width="41" height="11" fill="#ff0000" />
<text x="1602.5" y="229.1" font-size="10.4" fill="#fff" stroke="#fff" stroke-width="0.22" textLength="32.4" lengthAdjust="spacingAndGlyphs" >0.98703</text>
<rect x="1598" y="312" width="41" height="11" fill="#ff0000" />
<text x="1602.5" y="321.1" font-size="10.4" fill="#fff" stroke="#fff" stroke-width="0.22" textLength="32.4" lengthAdjust="spacingAndGlyphs" >0.96803</text>
<rect x="3" y="370" width="6" height="6" fill="#ff0000" />
<rect x="5" y="372" width="2" height="2" fill="#fff" />
<rect x="1590" y="370" width="6" height="6" fill="#ff0000" />
<rect x="1592" y="372" width="2" height="2" fill="#fff" />
<rect x="1598" y="367" width="41" height="11" fill="#ff0000" />
<text x="1602.5" y="376.1" font-size="10.4" fill="#fff" stroke="#fff" stroke-width="0.22" textLength="32.4" lengthAdjust="spacingAndGlyphs" >0.95678</text>
<rect x="3" y="451" width="6" height="6" fill="#00ff00" />
<rect x="5" y="453" width="2" height="2" fill="#fff" />
<rect x="1590" y="451" width="6" height="6" fill="#00ff00" />
<rect x="1592" y="453" width="2" height="2" fill="#fff" />
<rect x="1598" y="448" width="41" height="11" fill="#00ff00" />
<text x="1602.5" y="457.1" font-size="10.4" fill="#fff" stroke="#fff" stroke-width="0.22" textLength="32.4" lengthAdjust="spacingAndGlyphs" >0.94016</text>
<rect x="1598" y="501" width="41" height="11" fill="#0000ff" />
<text x="1602.5" y="510.1" font-size="10.4" fill="#fff" stroke="#fff" stroke-width="0.22" textLength="32.4" lengthAdjust="spacingAndGlyphs" >0.92914</text>
<rect x="3" y="558" width="6" height="6" fill="#0000ff" />
<rect x="5" y="560" width="2" height="2" fill="#fff" />
<rect x="1590" y="558" width="6" height="6" fill="#0000ff" />
<rect x="1592" y="560" width="2" height="2" fill="#fff" />
<rect x="1598" y="555" width="41" height="11" fill="#0000ff" />
<text x="1602.5" y="564.1" font-size="10.4" fill="#fff" stroke="#fff" stroke-width="0.22" textLength="32.4" lengthAdjust="spacingAndGlyphs" >0.91811</text>
<rect x="1598" y="299" width="41" height="11" fill="#000" />
<text x="1602.5" y="308.1" font-size="10.4" fill="#fff" stroke="#fff" stroke-width="0.22" textLength="32.4" lengthAdjust="spacingAndGlyphs" >0.97097</text>
<rect x="1596" y="21" width="1" height="759" fill="#000" />
<path d="M1272 22 L1281 22 L1276.5 27 Z" fill="#c0c0c0" style="shape-rendering:auto"/>
<path d="M7 28 L14 28 L10.5 32 Z" fill="#000"/>
<text x="19.2" y="33" font-size="10.4" fill="#000" stroke="#000" stroke-width="0.22" textLength="64.6" lengthAdjust="spacingAndGlyphs" >USDCHF,Daily</text>
<text x="90" y="33" font-size="10.4" fill="#000" stroke="#000" stroke-width="0.22" textLength="33" lengthAdjust="spacingAndGlyphs" >0.97279</text>
<text x="126.3" y="33" font-size="10.4" fill="#000" stroke="#000" stroke-width="0.22" textLength="32.6" lengthAdjust="spacingAndGlyphs" >0.97494</text>
<text x="162.2" y="33" font-size="10.4" fill="#000" stroke="#000" stroke-width="0.22" textLength="32.2" lengthAdjust="spacingAndGlyphs" >0.96377</text>
<text x="198.2" y="33" font-size="10.4" fill="#000" stroke="#000" stroke-width="0.22" textLength="32.8" lengthAdjust="spacingAndGlyphs" >0.97097</text>
<line x1="4" y1="607.5" x2="1596" y2="607.5" stroke="#c0c0c0" stroke-width="1" stroke-dasharray="3,3" shape-rendering="crispEdges"/>
<line x1="4" y1="647.5" x2="1596" y2="647.5" stroke="#c0c0c0" stroke-width="1" stroke-dasharray="3,3" shape-rendering="crispEdges"/>
<text x="8" y="589" font-size="10.4" fill="#000" stroke="#000" stroke-width="0.22" textLength="68.3" lengthAdjust="spacingAndGlyphs" >RSI(14) 58.4960</text>
<text x="1600.5" y="586.6" font-size="10.4" fill="#000" stroke="#000" stroke-width="0.22" textLength="15.1" lengthAdjust="spacingAndGlyphs" >100</text>
<text x="1600.5" y="610.6" font-size="10.4" fill="#000" stroke="#000" stroke-width="0.22" textLength="9.6" lengthAdjust="spacingAndGlyphs" >70</text>
<text x="1600.5" y="650.6" font-size="10.4" fill="#000" stroke="#000" stroke-width="0.22" textLength="9.6" lengthAdjust="spacingAndGlyphs" >30</text>
<text x="1600.5" y="674.6" font-size="10.4" fill="#000" stroke="#000" stroke-width="0.22" textLength="5" lengthAdjust="spacingAndGlyphs" >0</text>
<rect x="1597" y="607" width="2" height="1" fill="#000" />
<rect x="1597" y="647" width="2" height="1" fill="#000" />
<g clip-path="url(#cr)" fill="none" stroke-width="1" shape-rendering="crispEdges">
<path d="M135.5 602v2M419.5 626v2M1235.5 660v2M65.5 627v2M1098.5 626v3M1243.5 634v5M981.5 636v2M449.5 626v2M187.5 625v2M935.5 640v2M737.5 625v4M822.5 619v2M863.5 620v2M783.5 628v2M364.5 644v3M479.5 629v4M1257.5 631v4M490.5 639v2M429.5 630v2M558.5 630v2M160.5 621v2M1238.5 654v2M380.5 629v2M894.5 620v4M957.5 641v2M327.5 630v2M311.5 628v2M292.5 651v2M485.5 636v2M862.5 622v2M1253.5 630v2M740.5 637v2M982.5 638v2M185.5 621v2M1097.5 623v3M1233.5 663v2M367.5 632v4M186.5 623v2M295.5 645v2M933.5 637v2M234.5 635v2M1260.5 622v2M86.5 620v2M781.5 625v2M310.5 630v2M1241.5 643v5M892.5 613v3M261.5 630v2M159.5 617v4M591.5 626v2M1244.5 631v3M249.5 633v2M1027.5 634v2M804.5 625v2M325.5 627v2M451.5 623v2M329.5 634v4M245.5 640v2M405.5 628v2M1259.5 624v4M738.5 629v4M484.5 634v2M1053.5 642v2M686.5 619v2M162.5 618v2M678.5 619v2M454.5 619v2M67.5 623v2M248.5 635v2M803.5 627v3M199.5 634v2M1175.5 620v2M476.5 618v3M1019.5 638v2M233.5 633v2M55.5 626v2M1176.5 622v2M263.5 633v2M1088.5 630v2M161.5 620v2M677.5 621v3M487.5 641v2M180.5 611v2M802.5 630v2M202.5 634v2M938.5 639v2M1242.5 639v4M407.5 631v2M828.5 623v2M54.5 628v2M1018.5 640v2M1091.5 624v2M829.5 625v2M551.5 630v2M1193.5 627v4M574.5 618v2M197.5 630v2M900.5 638v2M156.5 606v3M1055.5 638v2M983.5 640v2M443.5 631v2M14.5 633v2M778.5 621v2M110.5 606v2M1054.5 640v2M910.5 632v2M431.5 633v2M1115.5 628v2M549.5 625v2M895.5 624v4M351.5 646v2M550.5 627v3M618.5 618v2M1111.5 635v2M663.5 624v2M1195.5 634v4M113.5 602v2M332.5 645v2M20.5 644v2M739.5 633v4M1255.5 634v2M595.5 623v2M66.5 625v2M1172.5 613v2M188.5 627v2M1205.5 646v2M16.5 636v2M548.5 623v2M513.5 638v2M486.5 638v3M589.5 622v2M1207.5 649v2M1196.5 638v2M235.5 637v2M680.5 614v2M273.5 641v2M418.5 628v2M1070.5 633v2M182.5 615v2M831.5 629v2M474.5 620v2M679.5 616v3M489.5 641v2M515.5 635v2M200.5 636v2M226.5 631v2M823.5 621v2M477.5 621v4M6.5 627v2M222.5 631v2M275.5 644v2M132.5 595v2M861.5 624v2M959.5 637v2M382.5 625v2M184.5 619v2M181.5 613v2M328.5 632v2M1099.5 629v3M366.5 636v4M830.5 627v2M309.5 632v2M860.5 626v2M950.5 641v2M617.5 616v2M1262.5 619v2M157.5 609v4M308.5 634v2M251.5 629v2M1254.5 632v2M247.5 637v2M1174.5 617v3M1025.5 637v2M399.5 625v2M478.5 625v4M18.5 640v2M676.5 624v2M1192.5 625v2M368.5 629v3M850.5 632v2M801.5 632v3M733.5 618v2M736.5 623v2M1017.5 642v2M488.5 643v2M1236.5 658v2M136.5 604v2M1256.5 635v2M196.5 628v2M1173.5 615v2M17.5 638v2M158.5 613v4M682.5 618v2M381.5 627v2M947.5 642v2M494.5 638v2M735.5 621v2M586.5 618v2M590.5 624v2M1114.5 630v2M897.5 632v2M570.5 623v2M498.5 638v2M1014.5 641v2M681.5 616v2M893.5 616v4M441.5 634v2M1258.5 628v3M1052.5 644v2M250.5 631v2M1113.5 632v2M945.5 639v2M349.5 649v2M1222.5 660v2M1090.5 626v2M1109.5 638v2M163.5 616v2M106.5 611v2M854.5 627v2M1237.5 656v2M896.5 628v4M417.5 630v2M178.5 613v2M1089.5 628v2M785.5 631v2M298.5 641v2M1096.5 621v2M294.5 647v2M1100.5 632v2M1240.5 648v4M552.5 632v2M331.5 641v4M134.5 599v3M183.5 617v2M661.5 627v2M1102.5 635v2M593.5 626v2M619.5 620v2M34.5 640v2M330.5 638v3M53.5 630v2M22.5 642v2M899.5 636v2M800.5 635v2M683.5 620v2M397.5 622v2M293.5 649v2M754.5 634v2M480.5 633v3M898.5 634v2M1194.5 631v3M19.5 642v2M365.5 640v4M491.5 637v2M787.5 634v2M1239.5 652v2M115.5 599v2M821.5 617v2M384.5 621v2M832.5 631v2M130.5 597v2M383.5 623v2M133.5 597v2M462.5 618v2M198.5 632v2M958.5 639v2M103 615.5h1M164 615.5h2M177 615.5h1M616 615.5h1M640 615.5h1M876 615.5h3M882 615.5h2M886 615.5h2M1149 615.5h1M391 620.5h1M394 620.5h2M463 620.5h1M573 620.5h1M587 620.5h1M605 620.5h2M627 620.5h3M650 620.5h1M668 620.5h2M696 620.5h2M718 620.5h2M734 620.5h1M775 620.5h1M777 620.5h1M812 620.5h1M1124 620.5h3M23 641.5h1M30 641.5h1M240 641.5h3M496 641.5h1M937 641.5h1M946 641.5h1M954 641.5h1M1010 641.5h1M1045 641.5h1M1200 641.5h1M8 630.5h3M191 630.5h1M193 630.5h2M212 630.5h3M221 630.5h1M227 630.5h1M229 630.5h2M255 630.5h1M258 630.5h2M320 630.5h1M406 630.5h1M444 630.5h2M525 630.5h1M759 630.5h1M784 630.5h1M852 630.5h1M912 630.5h3M1079 630.5h1M1083 630.5h4M1250 630.5h2M45 633.5h2M203 633.5h1M223 633.5h1M225 633.5h1M408 633.5h7M442 633.5h1M522 633.5h1M553 633.5h4M755 633.5h1M786 633.5h1M834 633.5h2M837 633.5h2M846 633.5h1M919 633.5h1M1028 633.5h7M1064 633.5h1M118 599.5h2M129 599.5h1M280 648.5h2M335 648.5h1M350 648.5h1M991 648.5h1M1003 648.5h1M1206 648.5h1M15 635.5h1M42 635.5h2M264 635.5h1M307 635.5h1M432 635.5h3M438 635.5h2M481 635.5h2M519 635.5h2M848 635.5h1M904 635.5h5M921 635.5h2M962 635.5h2M967 635.5h2M980 635.5h1M1037 635.5h2M1062 635.5h1M1067 635.5h1M1069 635.5h1M92 616.5h1M101 616.5h2M166 616.5h2M175 616.5h2M459 616.5h2M576 616.5h9M615 616.5h1M639 616.5h1M641 616.5h1M819 616.5h2M875 616.5h1M884 616.5h2M1148 616.5h1M11 631.5h2M48 631.5h3M192 631.5h1M210 631.5h2M231 631.5h1M256 631.5h2M524 631.5h1M757 631.5h2M840 631.5h5M851 631.5h1M911 631.5h1M915 631.5h2M1072 631.5h3M1077 631.5h2M1087 631.5h1M1245 631.5h5M4 625.5h1M56 625.5h3M420 625.5h1M450 625.5h1M544 625.5h2M564 625.5h3M569 625.5h1M594 625.5h1M655 625.5h1M764 625.5h1M805 625.5h2M856 625.5h2M1118 625.5h1M1185 625.5h1M63 628.5h1M252 628.5h1M317 628.5h2M322 628.5h1M375 628.5h3M423 628.5h1M448 628.5h1M527 628.5h1M530 628.5h2M533 628.5h2M540 628.5h1M560 628.5h1M592 628.5h1M659 628.5h1M761 628.5h1M1188 628.5h1M88 618.5h2M95 618.5h1M98 618.5h2M455 618.5h1M608 618.5h5M632 618.5h5M643 618.5h1M647 618.5h2M687 618.5h1M691 618.5h3M723 618.5h4M730 618.5h2M815 618.5h1M866 618.5h2M871 618.5h2M1130 618.5h2M1135 618.5h8M1145 618.5h2M1263 618.5h1M1267 618.5h2M38 637.5h2M266 637.5h1M303 637.5h1M493 637.5h1M499 637.5h1M501 637.5h2M514 637.5h1M752 637.5h1M790 637.5h2M795 637.5h4M902 637.5h1M924 637.5h7M940 637.5h3M971 637.5h1M978 637.5h1M1020 637.5h2M1040 637.5h1M1056 637.5h5M1103 637.5h1M1110 637.5h1M179 612.5h1M1152 612.5h3M1163 612.5h2M1171 612.5h1M68 622.5h10M85 622.5h1M387 622.5h2M452 622.5h1M466 622.5h2M473 622.5h1M571 622.5h1M596 622.5h7M620 622.5h3M652 622.5h1M665 622.5h2M672 622.5h1M684 622.5h1M700 622.5h6M712 622.5h3M768 622.5h5M810 622.5h1M1094 622.5h2M1121 622.5h2M31 642.5h1M33 642.5h1M243 642.5h2M936 642.5h1M955 642.5h1M984 642.5h1M1009 642.5h1M1046 642.5h1M1201 642.5h1M111 605.5h1M137 605.5h2M142 605.5h2M151 605.5h4M144 606.5h7M155 606.5h1M44 634.5h1M224 634.5h1M435 634.5h3M483 634.5h1M516 634.5h3M521 634.5h1M836 634.5h1M847 634.5h1M849 634.5h1M909 634.5h1M920 634.5h1M964 634.5h3M1035 634.5h2M1063 634.5h1M1065 634.5h2M1101 634.5h1M1112 634.5h1M21 644.5h1M296 644.5h1M355 644.5h4M948 644.5h1M987 644.5h1M1007 644.5h1M1016 644.5h1M1048 644.5h3M1203 644.5h1M61 627.5h2M312 627.5h5M323 627.5h1M400 627.5h5M422 627.5h1M528 627.5h2M535 627.5h1M538 627.5h2M541 627.5h2M561 627.5h2M657 627.5h2M762 627.5h1M782 627.5h1M1116 627.5h1M1187 627.5h1M1189 627.5h2M282 649.5h2M336 649.5h3M992 649.5h3M1001 649.5h2M40 636.5h2M201 636.5h1M265 636.5h1M304 636.5h3M440 636.5h1M492 636.5h1M500 636.5h1M753 636.5h1M788 636.5h2M799 636.5h1M903 636.5h1M923 636.5h1M931 636.5h2M960 636.5h2M969 636.5h2M979 636.5h1M1026 636.5h1M1039 636.5h1M1061 636.5h1M1068 636.5h1M1223 662.5h1M1234 662.5h1M87 619.5h1M96 619.5h2M392 619.5h2M475 619.5h1M607 619.5h1M630 619.5h2M644 619.5h3M649 619.5h1M694 619.5h2M720 619.5h3M727 619.5h3M776 619.5h1M813 619.5h2M864 619.5h2M1127 619.5h3M1143 619.5h2M284 650.5h3M339 650.5h2M995 650.5h6M78 623.5h2M83 623.5h2M468 623.5h5M653 623.5h1M664 623.5h1M673 623.5h2M706 623.5h2M710 623.5h2M767 623.5h1M779 623.5h1M809 623.5h1M824 623.5h4M1092 623.5h2M1120 623.5h1M1177 623.5h2M287 651.5h4M341 651.5h2M348 651.5h1M1208 651.5h1M278 647.5h2M333 647.5h2M990 647.5h1M1004 647.5h1M36 638.5h2M267 638.5h1M301 638.5h2M503 638.5h1M507 638.5h3M741 638.5h1M751 638.5h1M792 638.5h3M901 638.5h1M939 638.5h1M943 638.5h2M972 638.5h3M977 638.5h1M1022 638.5h2M1041 638.5h2M1104 638.5h2M1155 611.5h8M1165 611.5h2M1170 611.5h1M27 639.5h2M35 639.5h1M236 639.5h2M246 639.5h1M268 639.5h3M300 639.5h1M504 639.5h3M510 639.5h2M742 639.5h2M749 639.5h2M934 639.5h1M952 639.5h1M975 639.5h2M1012 639.5h1M1024 639.5h1M1043 639.5h1M1106 639.5h2M1197 639.5h1M104 614.5h1M879 614.5h3M888 614.5h3M1150 614.5h1M352 645.5h3M359 645.5h4M988 645.5h1M1006 645.5h1M1051 645.5h1M1204 645.5h1M7 629.5h1M64 629.5h1M189 629.5h2M195 629.5h1M215 629.5h6M228 629.5h1M253 629.5h2M260 629.5h1M319 629.5h1M321 629.5h1M326 629.5h1M369 629.5h6M378 629.5h2M424 629.5h5M446 629.5h2M526 629.5h1M532 629.5h1M559 629.5h1M660 629.5h1M760 629.5h1M853 629.5h1M1080 629.5h3M1252 629.5h1M90 617.5h2M93 617.5h2M100 617.5h1M168 617.5h7M456 617.5h3M461 617.5h1M575 617.5h1M585 617.5h1M613 617.5h2M637 617.5h2M642 617.5h1M688 617.5h3M732 617.5h1M816 617.5h3M868 617.5h3M873 617.5h2M1132 617.5h3M1147 617.5h1M1264 617.5h3M24 640.5h3M29 640.5h1M238 640.5h2M271 640.5h2M299 640.5h1M495 640.5h1M497 640.5h1M512 640.5h1M744 640.5h5M951 640.5h1M953 640.5h1M1011 640.5h1M1013 640.5h1M1044 640.5h1M1108 640.5h1M1198 640.5h2M385 621.5h2M389 621.5h2M396 621.5h1M453 621.5h1M464 621.5h2M572 621.5h1M588 621.5h1M603 621.5h2M623 621.5h4M651 621.5h1M667 621.5h1M670 621.5h2M685 621.5h1M698 621.5h2M715 621.5h3M773 621.5h2M811 621.5h1M1123 621.5h1M1261 621.5h1M112 604.5h1M139 604.5h3M291 652.5h1M343 652.5h1M346 652.5h2M1209 652.5h2M109 608.5h1M13 632.5h1M47 632.5h1M51 632.5h2M204 632.5h6M232 632.5h1M262 632.5h1M415 632.5h2M430 632.5h1M523 632.5h1M557 632.5h1M756 632.5h1M833 632.5h1M839 632.5h1M845 632.5h1M917 632.5h2M1071 632.5h1M1075 632.5h2M80 624.5h3M398 624.5h1M546 624.5h2M654 624.5h1M675 624.5h1M708 624.5h2M765 624.5h2M780 624.5h1M807 624.5h2M1119 624.5h1M1179 624.5h6M32 643.5h1M274 643.5h1M297 643.5h1M949 643.5h1M956 643.5h1M985 643.5h2M1008 643.5h1M1015 643.5h1M1047 643.5h1M1202 643.5h1M114 601.5h1M122 601.5h2M126 601.5h2M107 610.5h1M1167 610.5h1M1169 610.5h1M344 653.5h2M1211 653.5h1M276 646.5h2M363 646.5h1M989 646.5h1M1005 646.5h1M108 609.5h1M1168 609.5h1M120 600.5h2M128 600.5h1M5 626.5h1M59 626.5h2M324 626.5h1M421 626.5h1M536 626.5h2M543 626.5h1M563 626.5h1M567 626.5h2M656 626.5h1M662 626.5h1M763 626.5h1M855 626.5h1M858 626.5h2M1117 626.5h1M1186 626.5h1M1191 626.5h1M1217 655.5h1M1231 665.5h2M1212 654.5h5M1227 664.5h4M105 613.5h1M891 613.5h1M1151 613.5h1M1219 657.5h1M1220 658.5h1M1224 663.5h3M124 602.5h2M1218 656.5h1M1221 659.5h1M116 598.5h2M131 596.5h1" stroke="#1e90ff" />
</g>
<text x="8" y="692" font-size="10.4" fill="#000" stroke="#000" stroke-width="0.22" textLength="154" lengthAdjust="spacingAndGlyphs" >MACD(12,26,9) -0.001780 -0.007083</text>
<text x="1600.3" y="689.6" font-size="10.4" fill="#000" stroke="#000" stroke-width="0.22" textLength="37.7" lengthAdjust="spacingAndGlyphs" >0.006167</text>
<text x="1600.3" y="718.6" font-size="10.4" fill="#000" stroke="#000" stroke-width="0.22" textLength="17.7" lengthAdjust="spacingAndGlyphs" >0.00</text>
<text x="1600.3" y="775.6" font-size="10.4" fill="#000" stroke="#000" stroke-width="0.22" textLength="41.2" lengthAdjust="spacingAndGlyphs" >-0.011531</text>
<rect x="1597" y="715" width="2" height="1" fill="#000" />
<g clip-path="url(#cd)">
<rect x="4" y="708" width="1" height="8" fill="#c0c0c0" />
<rect x="8" y="710" width="1" height="6" fill="#c0c0c0" />
<rect x="12" y="712" width="1" height="4" fill="#c0c0c0" />
<rect x="16" y="714" width="1" height="2" fill="#c0c0c0" />
<rect x="20" y="715" width="1" height="3" fill="#c0c0c0" />
<rect x="24" y="715" width="1" height="6" fill="#c0c0c0" />
<rect x="28" y="715" width="1" height="8" fill="#c0c0c0" />
<rect x="32" y="715" width="1" height="10" fill="#c0c0c0" />
<rect x="36" y="715" width="1" height="11" fill="#c0c0c0" />
<rect x="40" y="715" width="1" height="12" fill="#c0c0c0" />
<rect x="44" y="715" width="1" height="11" fill="#c0c0c0" />
<rect x="48" y="715" width="1" height="11" fill="#c0c0c0" />
<rect x="52" y="715" width="1" height="10" fill="#c0c0c0" />
<rect x="56" y="715" width="1" height="9" fill="#c0c0c0" />
<rect x="60" y="715" width="1" height="7" fill="#c0c0c0" />
<rect x="64" y="715" width="1" height="5" fill="#c0c0c0" />
<rect x="68" y="715" width="1" height="4" fill="#c0c0c0" />
<rect x="72" y="715" width="1" height="3" fill="#c0c0c0" />
<rect x="76" y="715" width="1" height="2" fill="#c0c0c0" />
<rect x="80" y="715" width="1" height="1" fill="#c0c0c0" />
<rect x="84" y="715" width="1" height="1" fill="#c0c0c0" />
<rect x="88" y="714" width="1" height="2" fill="#c0c0c0" />
<rect x="92" y="713" width="1" height="3" fill="#c0c0c0" />
<rect x="96" y="713" width="1" height="3" fill="#c0c0c0" />
<rect x="100" y="712" width="1" height="4" fill="#c0c0c0" />
<rect x="104" y="710" width="1" height="6" fill="#c0c0c0" />
<rect x="108" y="708" width="1" height="8" fill="#c0c0c0" />
<rect x="112" y="705" width="1" height="11" fill="#c0c0c0" />
<rect x="116" y="701" width="1" height="15" fill="#c0c0c0" />
<rect x="120" y="697" width="1" height="19" fill="#c0c0c0" />
<rect x="124" y="694" width="1" height="22" fill="#c0c0c0" />
<rect x="128" y="693" width="1" height="23" fill="#c0c0c0" />
<rect x="132" y="692" width="1" height="24" fill="#c0c0c0" />
<rect x="136" y="691" width="1" height="25" fill="#c0c0c0" />
<rect x="140" y="690" width="1" height="26" fill="#c0c0c0" />
<rect x="144" y="690" width="1" height="26" fill="#c0c0c0" />
<rect x="148" y="689" width="1" height="27" fill="#c0c0c0" />
<rect x="152" y="689" width="1" height="27" fill="#c0c0c0" />
<rect x="156" y="690" width="1" height="26" fill="#c0c0c0" />
<rect x="160" y="690" width="1" height="26" fill="#c0c0c0" />
<rect x="164" y="691" width="1" height="25" fill="#c0c0c0" />
<rect x="168" y="692" width="1" height="24" fill="#c0c0c0" />
<rect x="172" y="693" width="1" height="23" fill="#c0c0c0" />
<rect x="176" y="693" width="1" height="23" fill="#c0c0c0" />
<rect x="180" y="693" width="1" height="23" fill="#c0c0c0" />
<rect x="184" y="695" width="1" height="21" fill="#c0c0c0" />
<rect x="188" y="699" width="1" height="17" fill="#c0c0c0" />
<rect x="192" y="703" width="1" height="13" fill="#c0c0c0" />
<rect x="196" y="705" width="1" height="11" fill="#c0c0c0" />
<rect x="200" y="710" width="1" height="6" fill="#c0c0c0" />
<rect x="204" y="713" width="1" height="3" fill="#c0c0c0" />
<rect x="208" y="715" width="1" height="1" fill="#c0c0c0" />
<rect x="212" y="715" width="1" height="1" fill="#c0c0c0" />
<rect x="216" y="715" width="1" height="1" fill="#c0c0c0" />
<rect x="220" y="715" width="1" height="1" fill="#c0c0c0" />
<rect x="224" y="715" width="1" height="1" fill="#c0c0c0" />
<rect x="228" y="715" width="1" height="3" fill="#c0c0c0" />
<rect x="232" y="715" width="1" height="3" fill="#c0c0c0" />
<rect x="236" y="715" width="1" height="6" fill="#c0c0c0" />
<rect x="240" y="715" width="1" height="9" fill="#c0c0c0" />
<rect x="244" y="715" width="1" height="12" fill="#c0c0c0" />
<rect x="248" y="715" width="1" height="12" fill="#c0c0c0" />
<rect x="252" y="715" width="1" height="11" fill="#c0c0c0" />
<rect x="256" y="715" width="1" height="10" fill="#c0c0c0" />
<rect x="260" y="715" width="1" height="9" fill="#c0c0c0" />
<rect x="264" y="715" width="1" height="11" fill="#c0c0c0" />
<rect x="268" y="715" width="1" height="12" fill="#c0c0c0" />
<rect x="272" y="715" width="1" height="14" fill="#c0c0c0" />
<rect x="276" y="715" width="1" height="17" fill="#c0c0c0" />
<rect x="280" y="715" width="1" height="21" fill="#c0c0c0" />
<rect x="284" y="715" width="1" height="25" fill="#c0c0c0" />
<rect x="288" y="715" width="1" height="28" fill="#c0c0c0" />
<rect x="292" y="715" width="1" height="31" fill="#c0c0c0" />
<rect x="296" y="715" width="1" height="31" fill="#c0c0c0" />
<rect x="300" y="715" width="1" height="30" fill="#c0c0c0" />
<rect x="304" y="715" width="1" height="28" fill="#c0c0c0" />
<rect x="308" y="715" width="1" height="26" fill="#c0c0c0" />
<rect x="312" y="715" width="1" height="22" fill="#c0c0c0" />
<rect x="316" y="715" width="1" height="19" fill="#c0c0c0" />
<rect x="320" y="715" width="1" height="16" fill="#c0c0c0" />
<rect x="324" y="715" width="1" height="13" fill="#c0c0c0" />
<rect x="328" y="715" width="1" height="13" fill="#c0c0c0" />
<rect x="332" y="715" width="1" height="18" fill="#c0c0c0" />
<rect x="336" y="715" width="1" height="24" fill="#c0c0c0" />
<rect x="340" y="715" width="1" height="29" fill="#c0c0c0" />
<rect x="344" y="715" width="1" height="34" fill="#c0c0c0" />
<rect x="348" y="715" width="1" height="38" fill="#c0c0c0" />
<rect x="352" y="715" width="1" height="39" fill="#c0c0c0" />
<rect x="356" y="715" width="1" height="39" fill="#c0c0c0" />
<rect x="360" y="715" width="1" height="39" fill="#c0c0c0" />
<rect x="364" y="715" width="1" height="39" fill="#c0c0c0" />
<rect x="368" y="715" width="1" height="32" fill="#c0c0c0" />
<rect x="372" y="715" width="1" height="29" fill="#c0c0c0" />
<rect x="376" y="715" width="1" height="26" fill="#c0c0c0" />
<rect x="380" y="715" width="1" height="23" fill="#c0c0c0" />
<rect x="384" y="715" width="1" height="16" fill="#c0c0c0" />
<rect x="388" y="715" width="1" height="12" fill="#c0c0c0" />
<rect x="392" y="715" width="1" height="7" fill="#c0c0c0" />
<rect x="396" y="715" width="1" height="4" fill="#c0c0c0" />
<rect x="400" y="715" width="1" height="3" fill="#c0c0c0" />
<rect x="404" y="715" width="1" height="2" fill="#c0c0c0" />
<rect x="408" y="715" width="1" height="5" fill="#c0c0c0" />
<rect x="412" y="715" width="1" height="6" fill="#c0c0c0" />
<rect x="416" y="715" width="1" height="6" fill="#c0c0c0" />
<rect x="420" y="715" width="1" height="5" fill="#c0c0c0" />
<rect x="424" y="715" width="1" height="4" fill="#c0c0c0" />
<rect x="428" y="715" width="1" height="5" fill="#c0c0c0" />
<rect x="432" y="715" width="1" height="5" fill="#c0c0c0" />
<rect x="436" y="715" width="1" height="7" fill="#c0c0c0" />
<rect x="440" y="715" width="1" height="7" fill="#c0c0c0" />
<rect x="444" y="715" width="1" height="7" fill="#c0c0c0" />
<rect x="448" y="715" width="1" height="7" fill="#c0c0c0" />
<rect x="452" y="715" width="1" height="5" fill="#c0c0c0" />
<rect x="456" y="715" width="1" height="1" fill="#c0c0c0" />
<rect x="460" y="713" width="1" height="3" fill="#c0c0c0" />
<rect x="464" y="712" width="1" height="4" fill="#c0c0c0" />
<rect x="468" y="711" width="1" height="5" fill="#c0c0c0" />
<rect x="472" y="710" width="1" height="6" fill="#c0c0c0" />
<rect x="476" y="708" width="1" height="8" fill="#c0c0c0" />
<rect x="480" y="714" width="1" height="2" fill="#c0c0c0" />
<rect x="484" y="715" width="1" height="1" fill="#c0c0c0" />
<rect x="488" y="715" width="1" height="7" fill="#c0c0c0" />
<rect x="492" y="715" width="1" height="10" fill="#c0c0c0" />
<rect x="496" y="715" width="1" height="15" fill="#c0c0c0" />
<rect x="500" y="715" width="1" height="17" fill="#c0c0c0" />
<rect x="504" y="715" width="1" height="20" fill="#c0c0c0" />
<rect x="508" y="715" width="1" height="23" fill="#c0c0c0" />
<rect x="512" y="715" width="1" height="24" fill="#c0c0c0" />
<rect x="516" y="715" width="1" height="23" fill="#c0c0c0" />
<rect x="520" y="715" width="1" height="23" fill="#c0c0c0" />
<rect x="524" y="715" width="1" height="21" fill="#c0c0c0" />
<rect x="528" y="715" width="1" height="18" fill="#c0c0c0" />
<rect x="532" y="715" width="1" height="15" fill="#c0c0c0" />
<rect x="536" y="715" width="1" height="13" fill="#c0c0c0" />
<rect x="540" y="715" width="1" height="11" fill="#c0c0c0" />
<rect x="544" y="715" width="1" height="9" fill="#c0c0c0" />
<rect x="548" y="715" width="1" height="7" fill="#c0c0c0" />
<rect x="552" y="715" width="1" height="7" fill="#c0c0c0" />
<rect x="556" y="715" width="1" height="9" fill="#c0c0c0" />
<rect x="560" y="715" width="1" height="7" fill="#c0c0c0" />
<rect x="564" y="715" width="1" height="6" fill="#c0c0c0" />
<rect x="568" y="715" width="1" height="5" fill="#c0c0c0" />
<rect x="572" y="715" width="1" height="1" fill="#c0c0c0" />
<rect x="576" y="712" width="1" height="4" fill="#c0c0c0" />
<rect x="580" y="709" width="1" height="7" fill="#c0c0c0" />
<rect x="584" y="706" width="1" height="10" fill="#c0c0c0" />
<rect x="588" y="705" width="1" height="11" fill="#c0c0c0" />
<rect x="592" y="707" width="1" height="9" fill="#c0c0c0" />
<rect x="596" y="706" width="1" height="10" fill="#c0c0c0" />
<rect x="600" y="705" width="1" height="11" fill="#c0c0c0" />
<rect x="604" y="705" width="1" height="11" fill="#c0c0c0" />
<rect x="608" y="703" width="1" height="13" fill="#c0c0c0" />
<rect x="612" y="703" width="1" height="13" fill="#c0c0c0" />
<rect x="616" y="701" width="1" height="15" fill="#c0c0c0" />
<rect x="620" y="701" width="1" height="15" fill="#c0c0c0" />
<rect x="624" y="701" width="1" height="15" fill="#c0c0c0" />
<rect x="628" y="701" width="1" height="15" fill="#c0c0c0" />
<rect x="632" y="701" width="1" height="15" fill="#c0c0c0" />
<rect x="636" y="700" width="1" height="16" fill="#c0c0c0" />
<rect x="640" y="699" width="1" height="17" fill="#c0c0c0" />
<rect x="644" y="699" width="1" height="17" fill="#c0c0c0" />
<rect x="648" y="700" width="1" height="16" fill="#c0c0c0" />
<rect x="652" y="701" width="1" height="15" fill="#c0c0c0" />
<rect x="656" y="703" width="1" height="13" fill="#c0c0c0" />
<rect x="660" y="705" width="1" height="11" fill="#c0c0c0" />
<rect x="664" y="705" width="1" height="11" fill="#c0c0c0" />
<rect x="668" y="706" width="1" height="10" fill="#c0c0c0" />
<rect x="672" y="706" width="1" height="10" fill="#c0c0c0" />
<rect x="676" y="706" width="1" height="10" fill="#c0c0c0" />
<rect x="680" y="705" width="1" height="11" fill="#c0c0c0" />
<rect x="684" y="703" width="1" height="13" fill="#c0c0c0" />
<rect x="688" y="702" width="1" height="14" fill="#c0c0c0" />
<rect x="692" y="701" width="1" height="15" fill="#c0c0c0" />
<rect x="696" y="701" width="1" height="15" fill="#c0c0c0" />
<rect x="700" y="703" width="1" height="13" fill="#c0c0c0" />
<rect x="704" y="703" width="1" height="13" fill="#c0c0c0" />
<rect x="708" y="703" width="1" height="13" fill="#c0c0c0" />
<rect x="712" y="704" width="1" height="12" fill="#c0c0c0" />
<rect x="716" y="704" width="1" height="12" fill="#c0c0c0" />
<rect x="720" y="704" width="1" height="12" fill="#c0c0c0" />
<rect x="724" y="703" width="1" height="13" fill="#c0c0c0" />
<rect x="728" y="704" width="1" height="12" fill="#c0c0c0" />
<rect x="732" y="703" width="1" height="13" fill="#c0c0c0" />
<rect x="736" y="704" width="1" height="12" fill="#c0c0c0" />
<rect x="740" y="710" width="1" height="6" fill="#c0c0c0" />
<rect x="744" y="714" width="1" height="2" fill="#c0c0c0" />
<rect x="748" y="715" width="1" height="3" fill="#c0c0c0" />
<rect x="752" y="715" width="1" height="5" fill="#c0c0c0" />
<rect x="756" y="715" width="1" height="5" fill="#c0c0c0" />
<rect x="760" y="715" width="1" height="4" fill="#c0c0c0" />
<rect x="764" y="715" width="1" height="3" fill="#c0c0c0" />
<rect x="768" y="715" width="1" height="1" fill="#c0c0c0" />
<rect x="772" y="714" width="1" height="2" fill="#c0c0c0" />
<rect x="776" y="714" width="1" height="2" fill="#c0c0c0" />
<rect x="780" y="714" width="1" height="2" fill="#c0c0c0" />
<rect x="784" y="715" width="1" height="1" fill="#c0c0c0" />
<rect x="788" y="715" width="1" height="3" fill="#c0c0c0" />
<rect x="792" y="715" width="1" height="3" fill="#c0c0c0" />
<rect x="796" y="715" width="1" height="6" fill="#c0c0c0" />
<rect x="800" y="715" width="1" height="7" fill="#c0c0c0" />
<rect x="804" y="715" width="1" height="5" fill="#c0c0c0" />
<rect x="808" y="715" width="1" height="3" fill="#c0c0c0" />
<rect x="812" y="715" width="1" height="1" fill="#c0c0c0" />
<rect x="816" y="714" width="1" height="2" fill="#c0c0c0" />
<rect x="820" y="712" width="1" height="4" fill="#c0c0c0" />
<rect x="824" y="711" width="1" height="5" fill="#c0c0c0" />
<rect x="828" y="710" width="1" height="6" fill="#c0c0c0" />
<rect x="832" y="713" width="1" height="3" fill="#c0c0c0" />
<rect x="836" y="714" width="1" height="2" fill="#c0c0c0" />
<rect x="840" y="715" width="1" height="1" fill="#c0c0c0" />
<rect x="844" y="715" width="1" height="1" fill="#c0c0c0" />
<rect x="848" y="715" width="1" height="3" fill="#c0c0c0" />
<rect x="852" y="715" width="1" height="3" fill="#c0c0c0" />
<rect x="856" y="715" width="1" height="2" fill="#c0c0c0" />
<rect x="860" y="715" width="1" height="2" fill="#c0c0c0" />
<rect x="864" y="715" width="1" height="1" fill="#c0c0c0" />
<rect x="868" y="713" width="1" height="3" fill="#c0c0c0" />
<rect x="872" y="711" width="1" height="5" fill="#c0c0c0" />
<rect x="876" y="709" width="1" height="7" fill="#c0c0c0" />
<rect x="880" y="707" width="1" height="9" fill="#c0c0c0" />
<rect x="884" y="706" width="1" height="10" fill="#c0c0c0" />
<rect x="888" y="705" width="1" height="11" fill="#c0c0c0" />
<rect x="892" y="704" width="1" height="12" fill="#c0c0c0" />
<rect x="896" y="707" width="1" height="9" fill="#c0c0c0" />
<rect x="900" y="711" width="1" height="5" fill="#c0c0c0" />
<rect x="904" y="714" width="1" height="2" fill="#c0c0c0" />
<rect x="908" y="715" width="1" height="1" fill="#c0c0c0" />
<rect x="912" y="715" width="1" height="1" fill="#c0c0c0" />
<rect x="916" y="715" width="1" height="3" fill="#c0c0c0" />
<rect x="920" y="715" width="1" height="4" fill="#c0c0c0" />
<rect x="924" y="715" width="1" height="6" fill="#c0c0c0" />
<rect x="928" y="715" width="1" height="8" fill="#c0c0c0" />
<rect x="932" y="715" width="1" height="8" fill="#c0c0c0" />
<rect x="936" y="715" width="1" height="11" fill="#c0c0c0" />
<rect x="940" y="715" width="1" height="12" fill="#c0c0c0" />
<rect x="944" y="715" width="1" height="13" fill="#c0c0c0" />
<rect x="948" y="715" width="1" height="15" fill="#c0c0c0" />
<rect x="952" y="715" width="1" height="16" fill="#c0c0c0" />
<rect x="956" y="715" width="1" height="18" fill="#c0c0c0" />
<rect x="960" y="715" width="1" height="18" fill="#c0c0c0" />
<rect x="964" y="715" width="1" height="17" fill="#c0c0c0" />
<rect x="968" y="715" width="1" height="17" fill="#c0c0c0" />
<rect x="972" y="715" width="1" height="17" fill="#c0c0c0" />
<rect x="976" y="715" width="1" height="17" fill="#c0c0c0" />
<rect x="980" y="715" width="1" height="18" fill="#c0c0c0" />
<rect x="984" y="715" width="1" height="19" fill="#c0c0c0" />
<rect x="988" y="715" width="1" height="21" fill="#c0c0c0" />
<rect x="992" y="715" width="1" height="23" fill="#c0c0c0" />
<rect x="996" y="715" width="1" height="26" fill="#c0c0c0" />
<rect x="1000" y="715" width="1" height="28" fill="#c0c0c0" />
<rect x="1004" y="715" width="1" height="29" fill="#c0c0c0" />
<rect x="1008" y="715" width="1" height="28" fill="#c0c0c0" />
<rect x="1012" y="715" width="1" height="28" fill="#c0c0c0" />
<rect x="1016" y="715" width="1" height="27" fill="#c0c0c0" />
<rect x="1020" y="715" width="1" height="26" fill="#c0c0c0" />
<rect x="1024" y="715" width="1" height="25" fill="#c0c0c0" />
<rect x="1028" y="715" width="1" height="22" fill="#c0c0c0" />
<rect x="1032" y="715" width="1" height="20" fill="#c0c0c0" />
<rect x="1036" y="715" width="1" height="19" fill="#c0c0c0" />
<rect x="1040" y="715" width="1" height="18" fill="#c0c0c0" />
<rect x="1044" y="715" width="1" height="19" fill="#c0c0c0" />
<rect x="1048" y="715" width="1" height="21" fill="#c0c0c0" />
<rect x="1052" y="715" width="1" height="22" fill="#c0c0c0" />
<rect x="1056" y="715" width="1" height="22" fill="#c0c0c0" />
<rect x="1060" y="715" width="1" height="20" fill="#c0c0c0" />
<rect x="1064" y="715" width="1" height="19" fill="#c0c0c0" />
<rect x="1068" y="715" width="1" height="17" fill="#c0c0c0" />
<rect x="1072" y="715" width="1" height="16" fill="#c0c0c0" />
<rect x="1076" y="715" width="1" height="14" fill="#c0c0c0" />
<rect x="1080" y="715" width="1" height="12" fill="#c0c0c0" />
<rect x="1084" y="715" width="1" height="11" fill="#c0c0c0" />
<rect x="1088" y="715" width="1" height="10" fill="#c0c0c0" />
<rect x="1092" y="715" width="1" height="8" fill="#c0c0c0" />
<rect x="1096" y="715" width="1" height="5" fill="#c0c0c0" />
<rect x="1100" y="715" width="1" height="6" fill="#c0c0c0" />
<rect x="1104" y="715" width="1" height="9" fill="#c0c0c0" />
<rect x="1108" y="715" width="1" height="10" fill="#c0c0c0" />
<rect x="1112" y="715" width="1" height="10" fill="#c0c0c0" />
<rect x="1116" y="715" width="1" height="9" fill="#c0c0c0" />
<rect x="1120" y="715" width="1" height="7" fill="#c0c0c0" />
<rect x="1124" y="715" width="1" height="3" fill="#c0c0c0" />
<rect x="1132" y="713" width="1" height="3" fill="#c0c0c0" />
<rect x="1136" y="711" width="1" height="5" fill="#c0c0c0" />
<rect x="1140" y="710" width="1" height="6" fill="#c0c0c0" />
<rect x="1144" y="709" width="1" height="7" fill="#c0c0c0" />
<rect x="1148" y="707" width="1" height="9" fill="#c0c0c0" />
<rect x="1152" y="705" width="1" height="11" fill="#c0c0c0" />
<rect x="1156" y="703" width="1" height="13" fill="#c0c0c0" />
<rect x="1160" y="701" width="1" height="15" fill="#c0c0c0" />
<rect x="1164" y="701" width="1" height="15" fill="#c0c0c0" />
<rect x="1168" y="699" width="1" height="17" fill="#c0c0c0" />
<rect x="1172" y="699" width="1" height="17" fill="#c0c0c0" />
<rect x="1176" y="700" width="1" height="16" fill="#c0c0c0" />
<rect x="1180" y="702" width="1" height="14" fill="#c0c0c0" />
<rect x="1184" y="704" width="1" height="12" fill="#c0c0c0" />
<rect x="1188" y="706" width="1" height="10" fill="#c0c0c0" />
<rect x="1192" y="707" width="1" height="9" fill="#c0c0c0" />
<rect x="1196" y="710" width="1" height="6" fill="#c0c0c0" />
<rect x="1204" y="715" width="1" height="4" fill="#c0c0c0" />
<rect x="1208" y="715" width="1" height="10" fill="#c0c0c0" />
<rect x="1212" y="715" width="1" height="17" fill="#c0c0c0" />
<rect x="1216" y="715" width="1" height="21" fill="#c0c0c0" />
<rect x="1220" y="715" width="1" height="28" fill="#c0c0c0" />
<rect x="1224" y="715" width="1" height="37" fill="#c0c0c0" />
<rect x="1228" y="715" width="1" height="45" fill="#c0c0c0" />
<rect x="1232" y="715" width="1" height="54" fill="#c0c0c0" />
<rect x="1236" y="715" width="1" height="58" fill="#c0c0c0" />
<rect x="1240" y="715" width="1" height="59" fill="#c0c0c0" />
<rect x="1244" y="715" width="1" height="52" fill="#c0c0c0" />
<rect x="1248" y="715" width="1" height="46" fill="#c0c0c0" />
<rect x="1252" y="715" width="1" height="40" fill="#c0c0c0" />
<rect x="1256" y="715" width="1" height="38" fill="#c0c0c0" />
<rect x="1260" y="715" width="1" height="29" fill="#c0c0c0" />
<rect x="1264" y="715" width="1" height="18" fill="#c0c0c0" />
<rect x="1268" y="715" width="1" height="10" fill="#c0c0c0" />
</g>
<g clip-path="url(#cd)" fill="none" stroke-width="1" shape-rendering="crispEdges">
<path d="M1244.5 753v2M1239.5 747v2M1226.5 729v2M1230.5 735v2M333 735.5h3M339 735.5h3M526 735.5h2M531 735.5h3M999 735.5h3M1059 735.5h3M237 717.5h3M467 717.5h1M777 717.5h3M783 717.5h3M801 717.5h3M807 717.5h1M821 717.5h1M1143 717.5h2M1216 717.5h1M298 737.5h2M327 737.5h3M346 737.5h2M395 737.5h1M1007 737.5h1M1042 737.5h2M1047 737.5h1M303 739.5h1M323 739.5h1M351 739.5h2M393 739.5h1M1013 739.5h1M1037 739.5h1M401 731.5h1M970 731.5h2M975 731.5h3M981 731.5h3M1085 731.5h1M1023 741.5h3M1029 741.5h3M1234 741.5h1M309 742.5h3M315 742.5h3M389 742.5h1M1235 742.5h1M27 712.5h2M225 712.5h1M592 712.5h2M760 712.5h2M921 712.5h2M1211 712.5h1M131 700.5h1M639 700.5h3M645 700.5h3M651 700.5h3M657 700.5h3M663 700.5h2M9 705.5h3M123 705.5h2M213 705.5h1M610 705.5h2M741 705.5h3M1167 705.5h1M1203 705.5h1M3 704.5h3M125 704.5h1M615 704.5h3M681 704.5h3M687 704.5h3M693 704.5h1M735 704.5h3M1168 704.5h2M69 723.5h3M255 723.5h3M261 723.5h3M507 723.5h1M567 723.5h2M1119 723.5h3M1221 723.5h1M41 720.5h1M81 720.5h3M417 720.5h3M436 720.5h2M441 720.5h1M453 720.5h3M459 720.5h3M503 720.5h1M574 720.5h2M939 720.5h1M1133 720.5h1M35 716.5h1M93 716.5h3M471 716.5h3M496 716.5h2M771 716.5h3M789 716.5h3M795 716.5h3M825 716.5h3M861 716.5h3M867 716.5h3M929 716.5h1M1145 716.5h1M1215 716.5h1M87 718.5h3M465 718.5h2M580 718.5h2M808 718.5h2M813 718.5h3M819 718.5h2M933 718.5h3M1139 718.5h1M1217 718.5h1M136 697.5h1M286 730.5h2M549 730.5h2M969 730.5h1M119 707.5h1M215 707.5h1M604 707.5h2M748 707.5h2M897 707.5h3M903 707.5h3M1161 707.5h2M165 687.5h3M171 687.5h3M285 729.5h1M515 729.5h1M551 729.5h1M963 729.5h3M1089 729.5h3M23 709.5h1M219 709.5h1M599 709.5h1M753 709.5h2M891 709.5h2M915 709.5h1M1157 709.5h1M45 722.5h3M411 722.5h2M569 722.5h1M945 722.5h3M1220 722.5h1M279 727.5h1M405 727.5h1M556 727.5h2M957 727.5h1M1095 727.5h2M51 724.5h3M267 724.5h1M508 724.5h1M563 724.5h1M951 724.5h1M1109 724.5h1M1113 724.5h3M1222 724.5h1M478 714.5h2M489 714.5h3M587 714.5h1M765 714.5h1M837 714.5h3M849 714.5h3M873 714.5h3M1149 714.5h1M75 721.5h3M249 721.5h3M413 721.5h1M442 721.5h2M447 721.5h3M573 721.5h1M940 721.5h2M1125 721.5h3M1131 721.5h2M130 701.5h1M634 701.5h2M665 701.5h1M669 701.5h2M1179 701.5h3M1185 701.5h3M1191 701.5h3M155 688.5h1M159 688.5h3M177 688.5h3M1254 761.5h2M1261 761.5h2M208 703.5h2M621 703.5h3M675 703.5h3M694 703.5h2M699 703.5h3M705 703.5h3M711 703.5h3M717 703.5h3M723 703.5h3M729 703.5h3M1199 703.5h1M39 719.5h2M243 719.5h3M423 719.5h3M429 719.5h3M435 719.5h1M501 719.5h2M579 719.5h1M1137 719.5h2M292 734.5h2M525 734.5h1M537 734.5h3M993 734.5h3M1065 734.5h3M1071 734.5h3M1077 734.5h1M1229 734.5h1M291 733.5h1M399 733.5h1M521 733.5h1M543 733.5h1M989 733.5h1M1078 733.5h2M297 736.5h1M345 736.5h1M1005 736.5h2M1048 736.5h2M1053 736.5h3M369 750.5h3M33 715.5h2M99 715.5h3M231 715.5h3M477 715.5h1M495 715.5h1M585 715.5h2M766 715.5h2M831 715.5h3M855 715.5h3M927 715.5h2M111 711.5h1M759 711.5h1M885 711.5h3M1210 711.5h1M400 732.5h1M519 732.5h2M544 732.5h2M987 732.5h2M1083 732.5h2M280 728.5h2M513 728.5h2M555 728.5h1M958 728.5h2M1225 728.5h1M1243 752.5h1M375 749.5h3M129 702.5h1M207 702.5h1M627 702.5h3M633 702.5h1M671 702.5h1M1173 702.5h3M1197 702.5h2M29 713.5h1M105 713.5h3M226 713.5h2M483 713.5h3M591 713.5h1M843 713.5h3M879 713.5h3M923 713.5h1M1150 713.5h2M364 748.5h2M381 748.5h1M15 706.5h3M214 706.5h1M609 706.5h1M747 706.5h1M1163 706.5h1M1204 706.5h2M1249 759.5h2M57 725.5h3M63 725.5h3M268 725.5h2M407 725.5h1M509 725.5h1M561 725.5h2M952 725.5h2M1102 725.5h2M1107 725.5h2M203 699.5h1M153 689.5h2M183 689.5h1M394 738.5h1M1011 738.5h2M1041 738.5h1M21 708.5h2M117 708.5h2M603 708.5h1M893 708.5h1M909 708.5h3M142 693.5h2M191 693.5h1M357 743.5h2M388 743.5h1M359 744.5h1M387 744.5h1M148 690.5h2M184 690.5h2M135 698.5h1M201 698.5h2M273 726.5h3M406 726.5h1M1097 726.5h1M1101 726.5h1M304 740.5h2M321 740.5h2M353 740.5h1M1017 740.5h3M1035 740.5h2M1233 740.5h1M112 710.5h2M220 710.5h2M597 710.5h2M755 710.5h1M916 710.5h2M1155 710.5h2M1209 710.5h1M1256 762.5h1M1260 762.5h1M141 694.5h1M195 694.5h1M363 747.5h1M382 747.5h2M147 691.5h1M189 692.5h2M1266 757.5h1M196 695.5h2M1238 746.5h1M137 696.5h1M1248 758.5h1M1267 756.5h1" stroke="#ff0000" />
</g>
<rect x="4" y="780" width="1" height="3" fill="#000" />
<text x="3.4" y="792" font-size="10.4" fill="#000" stroke="#000" stroke-width="0.22" textLength="51.3" lengthAdjust="spacingAndGlyphs" >16 Mar 2019</text>
<rect x="68" y="780" width="1" height="3" fill="#000" />
<text x="67.4" y="792" font-size="10.4" fill="#000" stroke="#000" stroke-width="0.22" textLength="45.6" lengthAdjust="spacingAndGlyphs" >4 Apr 2019</text>
<rect x="132" y="780" width="1" height="3" fill="#000" />
<text x="131.4" y="792" font-size="10.4" fill="#000" stroke="#000" stroke-width="0.22" textLength="51.3" lengthAdjust="spacingAndGlyphs" >23 Apr 2019</text>
<rect x="196" y="780" width="1" height="3" fill="#000" />
<text x="195.4" y="792" font-size="10.4" fill="#000" stroke="#000" stroke-width="0.22" textLength="55.3" lengthAdjust="spacingAndGlyphs" >11 May 2019</text>
<rect x="260" y="780" width="1" height="3" fill="#000" />
<text x="259.4" y="792" font-size="10.4" fill="#000" stroke="#000" stroke-width="0.22" textLength="54.8" lengthAdjust="spacingAndGlyphs" >30 May 2019</text>
<rect x="324" y="780" width="1" height="3" fill="#000" />
<text x="323.4" y="792" font-size="10.4" fill="#000" stroke="#000" stroke-width="0.22" textLength="49.4" lengthAdjust="spacingAndGlyphs" >18 Jun 2019</text>
<rect x="388" y="780" width="1" height="3" fill="#000" />
<text x="387.4" y="792" font-size="10.4" fill="#000" stroke="#000" stroke-width="0.22" textLength="42.3" lengthAdjust="spacingAndGlyphs" >6 Jul 2019</text>
<rect x="452" y="780" width="1" height="3" fill="#000" />
<text x="451.4" y="792" font-size="10.4" fill="#000" stroke="#000" stroke-width="0.22" textLength="47.2" lengthAdjust="spacingAndGlyphs" >25 Jul 2019</text>
<rect x="516" y="780" width="1" height="3" fill="#000" />
<text x="515.4" y="792" font-size="10.4" fill="#000" stroke="#000" stroke-width="0.22" textLength="53.1" lengthAdjust="spacingAndGlyphs" >13 Aug 2019</text>
<rect x="580" y="780" width="1" height="3" fill="#000" />
<text x="579.4" y="792" font-size="10.4" fill="#000" stroke="#000" stroke-width="0.22" textLength="53.4" lengthAdjust="spacingAndGlyphs" >31 Aug 2019</text>
<rect x="644" y="780" width="1" height="3" fill="#000" />
<text x="643.4" y="792" font-size="10.4" fill="#000" stroke="#000" stroke-width="0.22" textLength="51.8" lengthAdjust="spacingAndGlyphs" >19 Sep 2019</text>
<rect x="708" y="780" width="1" height="3" fill="#000" />
<text x="707.4" y="792" font-size="10.4" fill="#000" stroke="#000" stroke-width="0.22" textLength="47" lengthAdjust="spacingAndGlyphs" >8 Oct 2019</text>
<rect x="772" y="780" width="1" height="3" fill="#000" />
<text x="771.4" y="792" font-size="10.4" fill="#000" stroke="#000" stroke-width="0.22" textLength="51.6" lengthAdjust="spacingAndGlyphs" >26 Oct 2019</text>
<rect x="836" y="780" width="1" height="3" fill="#000" />
<text x="835.4" y="792" font-size="10.4" fill="#000" stroke="#000" stroke-width="0.22" textLength="54.7" lengthAdjust="spacingAndGlyphs" >14 Nov 2019</text>
<rect x="900" y="780" width="1" height="3" fill="#000" />
<text x="899.4" y="792" font-size="10.4" fill="#000" stroke="#000" stroke-width="0.22" textLength="46.8" lengthAdjust="spacingAndGlyphs" >3 Dec 2019</text>
<rect x="964" y="780" width="1" height="3" fill="#000" />
<text x="963.4" y="792" font-size="10.4" fill="#000" stroke="#000" stroke-width="0.22" textLength="52.2" lengthAdjust="spacingAndGlyphs" >21 Dec 2019</text>
<rect x="1028" y="780" width="1" height="3" fill="#000" />
<text x="1027.4" y="792" font-size="10.4" fill="#000" stroke="#000" stroke-width="0.22" textLength="45.2" lengthAdjust="spacingAndGlyphs" >9 Jan 2020</text>
<rect x="1092" y="780" width="1" height="3" fill="#000" />
<text x="1091.4" y="792" font-size="10.4" fill="#000" stroke="#000" stroke-width="0.22" textLength="50" lengthAdjust="spacingAndGlyphs" >28 Jan 2020</text>
<rect x="1156" y="780" width="1" height="3" fill="#000" />
<text x="1155.4" y="792" font-size="10.4" fill="#000" stroke="#000" stroke-width="0.22" textLength="52.2" lengthAdjust="spacingAndGlyphs" >15 Feb 2020</text>
<rect x="1220" y="780" width="1" height="3" fill="#000" />
<text x="1219.4" y="792" font-size="10.4" fill="#000" stroke="#000" stroke-width="0.22" textLength="47.1" lengthAdjust="spacingAndGlyphs" >5 Mar 2020</text>
<rect x="0" y="800" width="1639" height="1" fill="#e8e8e8" />
<rect x="0" y="801" width="1639" height="1" fill="#f4f4f4" />
<rect x="0" y="802" width="1639" height="1" fill="#000" />
<rect x="0" y="803" width="1639" height="19" fill="#f0f0f0" />
<rect x="0" y="822" width="1639" height="1" fill="#fcfcfc" />
<rect x="0" y="823" width="1639" height="3" fill="#f2f2f2" />
<rect x="0" y="803" width="1" height="19" fill="#808080" />
<rect x="109" y="802" width="100" height="19" fill="#fff" />
<rect x="109" y="802" width="1" height="19" fill="#000" />
<rect x="208" y="802" width="1" height="19" fill="#000" />
<rect x="109" y="820" width="100" height="1" fill="#000" />
<rect x="0" y="802" width="109" height="1" fill="#000" />
<rect x="110" y="802" width="98" height="1" fill="#fff" />
<text x="17.5" y="817" font-size="12.8" fill="#707070" stroke="#707070" stroke-width="0.05" textLength="79.5" lengthAdjust="spacingAndGlyphs" >EURUSD,Daily</text>
<text x="119" y="817" font-size="12.8" fill="#000" stroke="#000" stroke-width="0.05" textLength="79.5" lengthAdjust="spacingAndGlyphs" >USDCHF,Daily</text>
<text x="219" y="817" font-size="12.8" fill="#707070" stroke="#707070" stroke-width="0.05" textLength="83" lengthAdjust="spacingAndGlyphs" >AUDUSD,Daily</text>
<text x="324" y="817" font-size="12.8" fill="#707070" stroke="#707070" stroke-width="0.05" textLength="81" lengthAdjust="spacingAndGlyphs" >USDCAD,Daily</text>
<text x="427" y="817" font-size="12.8" fill="#707070" stroke="#707070" stroke-width="0.05" textLength="83" lengthAdjust="spacingAndGlyphs" >USDCNH,Daily</text>
<text x="533" y="817" font-size="12.8" fill="#707070" stroke="#707070" stroke-width="0.05" textLength="80" lengthAdjust="spacingAndGlyphs" >EURUSD,Daily</text>
<text x="637" y="817" font-size="12.8" fill="#707070" stroke="#707070" stroke-width="0.05" textLength="68" lengthAdjust="spacingAndGlyphs" >GBPUSD,H1</text>
<text x="729.5" y="817" font-size="12.8" fill="#707070" stroke="#707070" stroke-width="0.05" textLength="71" lengthAdjust="spacingAndGlyphs" >XAUUSD,M5</text>
<text x="824" y="817" font-size="12.8" fill="#707070" stroke="#707070" stroke-width="0.05" textLength="50" lengthAdjust="spacingAndGlyphs" >HK50,H1</text>
<text x="896" y="817" font-size="12.8" fill="#707070" stroke="#707070" stroke-width="0.05" textLength="57" lengthAdjust="spacingAndGlyphs" >UK100,H1</text>
<text x="976" y="817" font-size="12.8" fill="#707070" stroke="#707070" stroke-width="0.05" textLength="57" lengthAdjust="spacingAndGlyphs" >UK100,H1</text>
<text x="1056" y="817" font-size="12.8" fill="#707070" stroke="#707070" stroke-width="0.05" textLength="57" lengthAdjust="spacingAndGlyphs" >GER30,H1</text>
<text x="1135" y="817" font-size="12.8" fill="#707070" stroke="#707070" stroke-width="0.05" textLength="55" lengthAdjust="spacingAndGlyphs" >FRA40,H1</text>
<rect x="313" y="805" width="1" height="14" fill="#707070" />
<rect x="417" y="805" width="1" height="14" fill="#707070" />
<rect x="521" y="805" width="1" height="14" fill="#707070" />
<rect x="625" y="805" width="1" height="14" fill="#707070" />
<rect x="717" y="805" width="1" height="14" fill="#707070" />
<rect x="813" y="805" width="1" height="14" fill="#707070" />
<rect x="885" y="805" width="1" height="14" fill="#707070" />
<rect x="965" y="805" width="1" height="14" fill="#707070" />
<rect x="1045" y="805" width="1" height="14" fill="#707070" />
<rect x="1125" y="805" width="1" height="14" fill="#707070" />
<rect x="1201" y="805" width="1" height="14" fill="#707070" />
<path d="M1615 808 L1615 814.6 L1611.8 811.3 Z" fill="#a0a0a0" style="shape-rendering:auto"/>
<path d="M1631 808 L1631 814.6 L1634.2 811.3 Z" fill="#a0a0a0" style="shape-rendering:auto"/>
</svg>
</body></html>
